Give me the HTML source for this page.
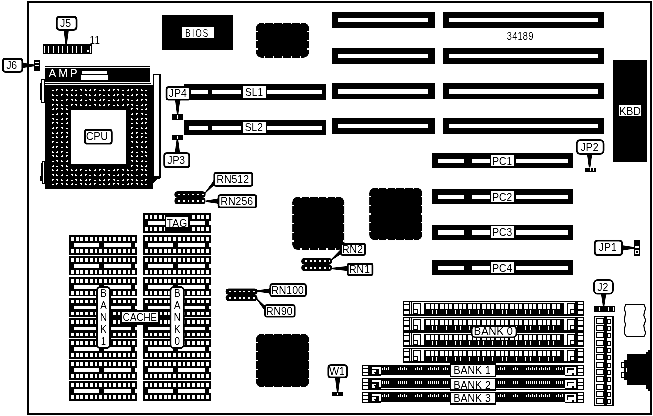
<!DOCTYPE html>
<html><head><meta charset="utf-8"><title>Motherboard layout</title>
<style>
html,body{margin:0;padding:0;background:#fff;}
body{width:653px;height:416px;overflow:hidden;}
svg{display:block;font-family:"Liberation Sans",sans-serif;}
</style></head><body>
<svg width="653" height="416" viewBox="0 0 653 416" shape-rendering="crispEdges">
<defs><filter id="bw" x="0" y="0" width="653" height="416" filterUnits="userSpaceOnUse" color-interpolation-filters="sRGB"><feComponentTransfer><feFuncR type="table" tableValues="0 0 0.6 1 1"/><feFuncG type="table" tableValues="0 0 0.6 1 1"/><feFuncB type="table" tableValues="0 0 0.6 1 1"/></feComponentTransfer></filter></defs>
<g filter="url(#bw)">
<rect x="0" y="0" width="653" height="416" fill="#fff"/>
<rect x="27.00" y="1.00" width="625.00" height="2.00" fill="#000" />
<rect x="27.00" y="413.00" width="625.00" height="2.00" fill="#000" />
<rect x="27.00" y="1.00" width="2.00" height="414.00" fill="#000" />
<rect x="650.00" y="1.00" width="2.00" height="414.00" fill="#000" />
<rect x="43.00" y="44.00" width="49.00" height="10.00" fill="#000" />
<rect x="44.00" y="45.50" width="1.20" height="7.10" fill="#fff" />
<rect x="48.00" y="45.50" width="1.20" height="7.10" fill="#fff" />
<rect x="53.00" y="45.50" width="1.20" height="7.10" fill="#fff" />
<rect x="58.00" y="45.50" width="1.20" height="7.10" fill="#fff" />
<rect x="62.00" y="45.50" width="1.20" height="7.10" fill="#fff" />
<rect x="67.00" y="45.50" width="1.20" height="7.10" fill="#fff" />
<rect x="72.00" y="45.50" width="1.20" height="7.10" fill="#fff" />
<rect x="76.00" y="45.50" width="1.20" height="7.10" fill="#fff" />
<rect x="81.00" y="45.50" width="1.20" height="7.10" fill="#fff" />
<rect x="87.00" y="50.00" width="1.60" height="1.70" fill="#fff" />
<rect x="90.00" y="45.50" width="1.10" height="7.10" fill="#fff" />
<text transform="translate(89.60,43.80) scale(1,1)" font-size="10" text-anchor="start" fill="#000" >11</text>
<polygon points="63.60,30.10 68.80,30.10 67.00,44.00 65.40,44.00" fill="#000" shape-rendering="geometricPrecision"/>
<rect x="56.75" y="16.75" width="19.80" height="13.10" rx="3" ry="3" fill="#fff" stroke="#000" stroke-width="1.8" shape-rendering="geometricPrecision"/>
<text transform="translate(65.45,26.96) scale(0.95,1)" font-size="11" text-anchor="middle" fill="#000" >J5</text>
<rect x="34.00" y="60.00" width="6.00" height="10.50" fill="#000" />
<rect x="35.20" y="61.60" width="3.80" height="1.20" fill="#fff" />
<rect x="35.20" y="65.00" width="3.80" height="1.20" fill="#fff" />
<polygon points="22.60,62.80 22.60,68.00 34.50,66.20 34.50,64.60" fill="#000" shape-rendering="geometricPrecision"/>
<rect x="2.95" y="58.75" width="19.40" height="13.00" rx="2.5" ry="2.5" fill="#fff" stroke="#000" stroke-width="1.8" shape-rendering="geometricPrecision"/>
<text transform="translate(11.65,68.91) scale(0.95,1)" font-size="11" text-anchor="middle" fill="#000" >J6</text>
<rect x="45.00" y="66.00" width="104.50" height="1.00" fill="#000" />
<rect x="45.00" y="68.00" width="104.50" height="14.00" fill="#000" />
<rect x="45.00" y="83.00" width="106.00" height="1.00" fill="#000" />
<rect x="45.00" y="85.00" width="108.00" height="104.00" fill="#000" />
<text transform="translate(48.80,77.40) scale(1,1)" font-size="11" text-anchor="start" fill="#fff" letter-spacing="2.3" >AMP</text>
<rect x="82.00" y="71.00" width="25.00" height="2.60" fill="#fff" />
<rect x="81.00" y="75.30" width="27.20" height="4.40" fill="#fff" />
<rect x="52.00" y="90.00" width="2.00" height="1.00" fill="#fff" />
<rect x="56.00" y="89.00" width="2.00" height="2.00" fill="#fff" />
<rect x="57.00" y="90.00" width="1.00" height="1.00" fill="#000" />
<rect x="61.00" y="89.00" width="2.00" height="2.00" fill="#fff" />
<rect x="61.00" y="90.00" width="1.00" height="1.00" fill="#000" />
<rect x="66.00" y="89.00" width="2.00" height="2.00" fill="#fff" />
<rect x="67.00" y="89.00" width="1.00" height="1.00" fill="#000" />
<rect x="71.00" y="89.00" width="2.00" height="2.00" fill="#fff" />
<rect x="71.00" y="89.00" width="1.00" height="1.00" fill="#000" />
<rect x="75.00" y="90.00" width="2.00" height="1.00" fill="#fff" />
<rect x="80.00" y="89.00" width="2.00" height="2.00" fill="#fff" />
<rect x="80.00" y="90.00" width="1.00" height="1.00" fill="#000" />
<rect x="85.00" y="89.00" width="2.00" height="2.00" fill="#fff" />
<rect x="86.00" y="89.00" width="1.00" height="1.00" fill="#000" />
<rect x="89.00" y="89.00" width="2.00" height="2.00" fill="#fff" />
<rect x="89.00" y="89.00" width="1.00" height="1.00" fill="#000" />
<rect x="94.00" y="89.00" width="2.00" height="2.00" fill="#fff" />
<rect x="95.00" y="90.00" width="1.00" height="1.00" fill="#000" />
<rect x="99.00" y="90.00" width="2.00" height="1.00" fill="#fff" />
<rect x="103.00" y="89.00" width="2.00" height="2.00" fill="#fff" />
<rect x="104.00" y="89.00" width="1.00" height="1.00" fill="#000" />
<rect x="108.00" y="89.00" width="2.00" height="2.00" fill="#fff" />
<rect x="108.00" y="89.00" width="1.00" height="1.00" fill="#000" />
<rect x="113.00" y="89.00" width="2.00" height="2.00" fill="#fff" />
<rect x="114.00" y="90.00" width="1.00" height="1.00" fill="#000" />
<rect x="117.00" y="89.00" width="2.00" height="2.00" fill="#fff" />
<rect x="117.00" y="90.00" width="1.00" height="1.00" fill="#000" />
<rect x="122.00" y="90.00" width="2.00" height="1.00" fill="#fff" />
<rect x="127.00" y="89.00" width="2.00" height="2.00" fill="#fff" />
<rect x="127.00" y="89.00" width="1.00" height="1.00" fill="#000" />
<rect x="131.00" y="89.00" width="2.00" height="2.00" fill="#fff" />
<rect x="132.00" y="90.00" width="1.00" height="1.00" fill="#000" />
<rect x="136.00" y="89.00" width="2.00" height="2.00" fill="#fff" />
<rect x="136.00" y="90.00" width="1.00" height="1.00" fill="#000" />
<rect x="141.00" y="89.00" width="2.00" height="2.00" fill="#fff" />
<rect x="142.00" y="89.00" width="1.00" height="1.00" fill="#000" />
<rect x="145.00" y="90.00" width="2.00" height="1.00" fill="#fff" />
<rect x="52.00" y="94.00" width="2.00" height="2.00" fill="#fff" />
<rect x="53.00" y="94.00" width="1.00" height="1.00" fill="#000" />
<rect x="56.00" y="95.00" width="2.00" height="1.00" fill="#fff" />
<rect x="61.00" y="94.00" width="2.00" height="2.00" fill="#fff" />
<rect x="62.00" y="95.00" width="1.00" height="1.00" fill="#000" />
<rect x="66.00" y="94.00" width="2.00" height="2.00" fill="#fff" />
<rect x="66.00" y="95.00" width="1.00" height="1.00" fill="#000" />
<rect x="71.00" y="94.00" width="2.00" height="2.00" fill="#fff" />
<rect x="72.00" y="94.00" width="1.00" height="1.00" fill="#000" />
<rect x="75.00" y="94.00" width="2.00" height="2.00" fill="#fff" />
<rect x="75.00" y="94.00" width="1.00" height="1.00" fill="#000" />
<rect x="80.00" y="95.00" width="2.00" height="1.00" fill="#fff" />
<rect x="85.00" y="94.00" width="2.00" height="2.00" fill="#fff" />
<rect x="85.00" y="95.00" width="1.00" height="1.00" fill="#000" />
<rect x="89.00" y="94.00" width="2.00" height="2.00" fill="#fff" />
<rect x="90.00" y="94.00" width="1.00" height="1.00" fill="#000" />
<rect x="94.00" y="94.00" width="2.00" height="2.00" fill="#fff" />
<rect x="94.00" y="94.00" width="1.00" height="1.00" fill="#000" />
<rect x="99.00" y="94.00" width="2.00" height="2.00" fill="#fff" />
<rect x="100.00" y="95.00" width="1.00" height="1.00" fill="#000" />
<rect x="103.00" y="95.00" width="2.00" height="1.00" fill="#fff" />
<rect x="108.00" y="94.00" width="2.00" height="2.00" fill="#fff" />
<rect x="109.00" y="94.00" width="1.00" height="1.00" fill="#000" />
<rect x="113.00" y="94.00" width="2.00" height="2.00" fill="#fff" />
<rect x="113.00" y="94.00" width="1.00" height="1.00" fill="#000" />
<rect x="117.00" y="94.00" width="2.00" height="2.00" fill="#fff" />
<rect x="118.00" y="95.00" width="1.00" height="1.00" fill="#000" />
<rect x="122.00" y="94.00" width="2.00" height="2.00" fill="#fff" />
<rect x="122.00" y="95.00" width="1.00" height="1.00" fill="#000" />
<rect x="127.00" y="95.00" width="2.00" height="1.00" fill="#fff" />
<rect x="131.00" y="94.00" width="2.00" height="2.00" fill="#fff" />
<rect x="131.00" y="94.00" width="1.00" height="1.00" fill="#000" />
<rect x="136.00" y="94.00" width="2.00" height="2.00" fill="#fff" />
<rect x="137.00" y="95.00" width="1.00" height="1.00" fill="#000" />
<rect x="141.00" y="94.00" width="2.00" height="2.00" fill="#fff" />
<rect x="141.00" y="95.00" width="1.00" height="1.00" fill="#000" />
<rect x="145.00" y="94.00" width="2.00" height="2.00" fill="#fff" />
<rect x="146.00" y="94.00" width="1.00" height="1.00" fill="#000" />
<rect x="52.00" y="99.00" width="2.00" height="2.00" fill="#fff" />
<rect x="52.00" y="100.00" width="1.00" height="1.00" fill="#000" />
<rect x="56.00" y="99.00" width="2.00" height="2.00" fill="#fff" />
<rect x="57.00" y="99.00" width="1.00" height="1.00" fill="#000" />
<rect x="61.00" y="100.00" width="2.00" height="1.00" fill="#fff" />
<rect x="66.00" y="99.00" width="2.00" height="2.00" fill="#fff" />
<rect x="67.00" y="100.00" width="1.00" height="1.00" fill="#000" />
<rect x="71.00" y="99.00" width="2.00" height="2.00" fill="#fff" />
<rect x="71.00" y="100.00" width="1.00" height="1.00" fill="#000" />
<rect x="75.00" y="99.00" width="2.00" height="2.00" fill="#fff" />
<rect x="76.00" y="99.00" width="1.00" height="1.00" fill="#000" />
<rect x="80.00" y="99.00" width="2.00" height="2.00" fill="#fff" />
<rect x="80.00" y="99.00" width="1.00" height="1.00" fill="#000" />
<rect x="85.00" y="100.00" width="2.00" height="1.00" fill="#fff" />
<rect x="89.00" y="99.00" width="2.00" height="2.00" fill="#fff" />
<rect x="89.00" y="100.00" width="1.00" height="1.00" fill="#000" />
<rect x="94.00" y="99.00" width="2.00" height="2.00" fill="#fff" />
<rect x="95.00" y="99.00" width="1.00" height="1.00" fill="#000" />
<rect x="99.00" y="99.00" width="2.00" height="2.00" fill="#fff" />
<rect x="99.00" y="99.00" width="1.00" height="1.00" fill="#000" />
<rect x="103.00" y="99.00" width="2.00" height="2.00" fill="#fff" />
<rect x="104.00" y="100.00" width="1.00" height="1.00" fill="#000" />
<rect x="108.00" y="100.00" width="2.00" height="1.00" fill="#fff" />
<rect x="113.00" y="99.00" width="2.00" height="2.00" fill="#fff" />
<rect x="114.00" y="99.00" width="1.00" height="1.00" fill="#000" />
<rect x="117.00" y="99.00" width="2.00" height="2.00" fill="#fff" />
<rect x="117.00" y="99.00" width="1.00" height="1.00" fill="#000" />
<rect x="122.00" y="99.00" width="2.00" height="2.00" fill="#fff" />
<rect x="123.00" y="100.00" width="1.00" height="1.00" fill="#000" />
<rect x="127.00" y="99.00" width="2.00" height="2.00" fill="#fff" />
<rect x="127.00" y="100.00" width="1.00" height="1.00" fill="#000" />
<rect x="131.00" y="100.00" width="2.00" height="1.00" fill="#fff" />
<rect x="136.00" y="99.00" width="2.00" height="2.00" fill="#fff" />
<rect x="136.00" y="99.00" width="1.00" height="1.00" fill="#000" />
<rect x="141.00" y="99.00" width="2.00" height="2.00" fill="#fff" />
<rect x="142.00" y="100.00" width="1.00" height="1.00" fill="#000" />
<rect x="145.00" y="99.00" width="2.00" height="2.00" fill="#fff" />
<rect x="145.00" y="100.00" width="1.00" height="1.00" fill="#000" />
<rect x="52.00" y="104.00" width="2.00" height="2.00" fill="#fff" />
<rect x="53.00" y="105.00" width="1.00" height="1.00" fill="#000" />
<rect x="56.00" y="104.00" width="2.00" height="2.00" fill="#fff" />
<rect x="56.00" y="105.00" width="1.00" height="1.00" fill="#000" />
<rect x="61.00" y="104.00" width="2.00" height="2.00" fill="#fff" />
<rect x="62.00" y="104.00" width="1.00" height="1.00" fill="#000" />
<rect x="66.00" y="105.00" width="2.00" height="1.00" fill="#fff" />
<rect x="71.00" y="104.00" width="2.00" height="2.00" fill="#fff" />
<rect x="72.00" y="105.00" width="1.00" height="1.00" fill="#000" />
<rect x="75.00" y="104.00" width="2.00" height="2.00" fill="#fff" />
<rect x="75.00" y="105.00" width="1.00" height="1.00" fill="#000" />
<rect x="80.00" y="104.00" width="2.00" height="2.00" fill="#fff" />
<rect x="81.00" y="104.00" width="1.00" height="1.00" fill="#000" />
<rect x="85.00" y="104.00" width="2.00" height="2.00" fill="#fff" />
<rect x="85.00" y="104.00" width="1.00" height="1.00" fill="#000" />
<rect x="89.00" y="105.00" width="2.00" height="1.00" fill="#fff" />
<rect x="94.00" y="104.00" width="2.00" height="2.00" fill="#fff" />
<rect x="94.00" y="105.00" width="1.00" height="1.00" fill="#000" />
<rect x="99.00" y="104.00" width="2.00" height="2.00" fill="#fff" />
<rect x="100.00" y="104.00" width="1.00" height="1.00" fill="#000" />
<rect x="103.00" y="104.00" width="2.00" height="2.00" fill="#fff" />
<rect x="103.00" y="104.00" width="1.00" height="1.00" fill="#000" />
<rect x="108.00" y="104.00" width="2.00" height="2.00" fill="#fff" />
<rect x="109.00" y="105.00" width="1.00" height="1.00" fill="#000" />
<rect x="113.00" y="105.00" width="2.00" height="1.00" fill="#fff" />
<rect x="117.00" y="104.00" width="2.00" height="2.00" fill="#fff" />
<rect x="118.00" y="104.00" width="1.00" height="1.00" fill="#000" />
<rect x="122.00" y="104.00" width="2.00" height="2.00" fill="#fff" />
<rect x="122.00" y="104.00" width="1.00" height="1.00" fill="#000" />
<rect x="127.00" y="104.00" width="2.00" height="2.00" fill="#fff" />
<rect x="128.00" y="105.00" width="1.00" height="1.00" fill="#000" />
<rect x="131.00" y="104.00" width="2.00" height="2.00" fill="#fff" />
<rect x="131.00" y="105.00" width="1.00" height="1.00" fill="#000" />
<rect x="136.00" y="105.00" width="2.00" height="1.00" fill="#fff" />
<rect x="141.00" y="104.00" width="2.00" height="2.00" fill="#fff" />
<rect x="141.00" y="104.00" width="1.00" height="1.00" fill="#000" />
<rect x="145.00" y="104.00" width="2.00" height="2.00" fill="#fff" />
<rect x="146.00" y="105.00" width="1.00" height="1.00" fill="#000" />
<rect x="52.00" y="108.00" width="2.00" height="2.00" fill="#fff" />
<rect x="52.00" y="108.00" width="1.00" height="1.00" fill="#000" />
<rect x="56.00" y="108.00" width="2.00" height="2.00" fill="#fff" />
<rect x="57.00" y="109.00" width="1.00" height="1.00" fill="#000" />
<rect x="61.00" y="108.00" width="2.00" height="2.00" fill="#fff" />
<rect x="61.00" y="109.00" width="1.00" height="1.00" fill="#000" />
<rect x="66.00" y="108.00" width="2.00" height="2.00" fill="#fff" />
<rect x="67.00" y="108.00" width="1.00" height="1.00" fill="#000" />
<rect x="131.00" y="108.00" width="2.00" height="2.00" fill="#fff" />
<rect x="132.00" y="109.00" width="1.00" height="1.00" fill="#000" />
<rect x="136.00" y="108.00" width="2.00" height="2.00" fill="#fff" />
<rect x="136.00" y="109.00" width="1.00" height="1.00" fill="#000" />
<rect x="141.00" y="109.00" width="2.00" height="1.00" fill="#fff" />
<rect x="145.00" y="108.00" width="2.00" height="2.00" fill="#fff" />
<rect x="145.00" y="108.00" width="1.00" height="1.00" fill="#000" />
<rect x="52.00" y="114.00" width="2.00" height="1.00" fill="#fff" />
<rect x="56.00" y="113.00" width="2.00" height="2.00" fill="#fff" />
<rect x="56.00" y="113.00" width="1.00" height="1.00" fill="#000" />
<rect x="61.00" y="113.00" width="2.00" height="2.00" fill="#fff" />
<rect x="62.00" y="114.00" width="1.00" height="1.00" fill="#000" />
<rect x="66.00" y="113.00" width="2.00" height="2.00" fill="#fff" />
<rect x="66.00" y="114.00" width="1.00" height="1.00" fill="#000" />
<rect x="131.00" y="113.00" width="2.00" height="2.00" fill="#fff" />
<rect x="131.00" y="113.00" width="1.00" height="1.00" fill="#000" />
<rect x="136.00" y="113.00" width="2.00" height="2.00" fill="#fff" />
<rect x="137.00" y="114.00" width="1.00" height="1.00" fill="#000" />
<rect x="141.00" y="113.00" width="2.00" height="2.00" fill="#fff" />
<rect x="141.00" y="114.00" width="1.00" height="1.00" fill="#000" />
<rect x="145.00" y="114.00" width="2.00" height="1.00" fill="#fff" />
<rect x="52.00" y="118.00" width="2.00" height="2.00" fill="#fff" />
<rect x="52.00" y="119.00" width="1.00" height="1.00" fill="#000" />
<rect x="56.00" y="119.00" width="2.00" height="1.00" fill="#fff" />
<rect x="61.00" y="118.00" width="2.00" height="2.00" fill="#fff" />
<rect x="61.00" y="118.00" width="1.00" height="1.00" fill="#000" />
<rect x="66.00" y="118.00" width="2.00" height="2.00" fill="#fff" />
<rect x="67.00" y="119.00" width="1.00" height="1.00" fill="#000" />
<rect x="131.00" y="118.00" width="2.00" height="2.00" fill="#fff" />
<rect x="132.00" y="118.00" width="1.00" height="1.00" fill="#000" />
<rect x="136.00" y="118.00" width="2.00" height="2.00" fill="#fff" />
<rect x="136.00" y="118.00" width="1.00" height="1.00" fill="#000" />
<rect x="141.00" y="118.00" width="2.00" height="2.00" fill="#fff" />
<rect x="142.00" y="119.00" width="1.00" height="1.00" fill="#000" />
<rect x="145.00" y="118.00" width="2.00" height="2.00" fill="#fff" />
<rect x="145.00" y="119.00" width="1.00" height="1.00" fill="#000" />
<rect x="52.00" y="122.00" width="2.00" height="2.00" fill="#fff" />
<rect x="53.00" y="123.00" width="1.00" height="1.00" fill="#000" />
<rect x="56.00" y="122.00" width="2.00" height="2.00" fill="#fff" />
<rect x="56.00" y="123.00" width="1.00" height="1.00" fill="#000" />
<rect x="61.00" y="123.00" width="2.00" height="1.00" fill="#fff" />
<rect x="66.00" y="122.00" width="2.00" height="2.00" fill="#fff" />
<rect x="66.00" y="122.00" width="1.00" height="1.00" fill="#000" />
<rect x="131.00" y="123.00" width="2.00" height="1.00" fill="#fff" />
<rect x="136.00" y="122.00" width="2.00" height="2.00" fill="#fff" />
<rect x="137.00" y="122.00" width="1.00" height="1.00" fill="#000" />
<rect x="141.00" y="122.00" width="2.00" height="2.00" fill="#fff" />
<rect x="141.00" y="122.00" width="1.00" height="1.00" fill="#000" />
<rect x="145.00" y="122.00" width="2.00" height="2.00" fill="#fff" />
<rect x="146.00" y="123.00" width="1.00" height="1.00" fill="#000" />
<rect x="52.00" y="127.00" width="2.00" height="2.00" fill="#fff" />
<rect x="52.00" y="127.00" width="1.00" height="1.00" fill="#000" />
<rect x="56.00" y="127.00" width="2.00" height="2.00" fill="#fff" />
<rect x="57.00" y="128.00" width="1.00" height="1.00" fill="#000" />
<rect x="61.00" y="127.00" width="2.00" height="2.00" fill="#fff" />
<rect x="61.00" y="128.00" width="1.00" height="1.00" fill="#000" />
<rect x="66.00" y="128.00" width="2.00" height="1.00" fill="#fff" />
<rect x="131.00" y="127.00" width="2.00" height="2.00" fill="#fff" />
<rect x="132.00" y="128.00" width="1.00" height="1.00" fill="#000" />
<rect x="136.00" y="128.00" width="2.00" height="1.00" fill="#fff" />
<rect x="141.00" y="127.00" width="2.00" height="2.00" fill="#fff" />
<rect x="142.00" y="127.00" width="1.00" height="1.00" fill="#000" />
<rect x="145.00" y="127.00" width="2.00" height="2.00" fill="#fff" />
<rect x="145.00" y="127.00" width="1.00" height="1.00" fill="#000" />
<rect x="52.00" y="132.00" width="2.00" height="2.00" fill="#fff" />
<rect x="53.00" y="132.00" width="1.00" height="1.00" fill="#000" />
<rect x="56.00" y="132.00" width="2.00" height="2.00" fill="#fff" />
<rect x="56.00" y="132.00" width="1.00" height="1.00" fill="#000" />
<rect x="61.00" y="132.00" width="2.00" height="2.00" fill="#fff" />
<rect x="62.00" y="133.00" width="1.00" height="1.00" fill="#000" />
<rect x="66.00" y="132.00" width="2.00" height="2.00" fill="#fff" />
<rect x="66.00" y="133.00" width="1.00" height="1.00" fill="#000" />
<rect x="131.00" y="132.00" width="2.00" height="2.00" fill="#fff" />
<rect x="131.00" y="132.00" width="1.00" height="1.00" fill="#000" />
<rect x="136.00" y="132.00" width="2.00" height="2.00" fill="#fff" />
<rect x="137.00" y="133.00" width="1.00" height="1.00" fill="#000" />
<rect x="141.00" y="133.00" width="2.00" height="1.00" fill="#fff" />
<rect x="145.00" y="132.00" width="2.00" height="2.00" fill="#fff" />
<rect x="146.00" y="132.00" width="1.00" height="1.00" fill="#000" />
<rect x="52.00" y="137.00" width="2.00" height="1.00" fill="#fff" />
<rect x="56.00" y="136.00" width="2.00" height="2.00" fill="#fff" />
<rect x="57.00" y="136.00" width="1.00" height="1.00" fill="#000" />
<rect x="61.00" y="136.00" width="2.00" height="2.00" fill="#fff" />
<rect x="61.00" y="136.00" width="1.00" height="1.00" fill="#000" />
<rect x="66.00" y="136.00" width="2.00" height="2.00" fill="#fff" />
<rect x="67.00" y="137.00" width="1.00" height="1.00" fill="#000" />
<rect x="131.00" y="136.00" width="2.00" height="2.00" fill="#fff" />
<rect x="132.00" y="136.00" width="1.00" height="1.00" fill="#000" />
<rect x="136.00" y="136.00" width="2.00" height="2.00" fill="#fff" />
<rect x="136.00" y="136.00" width="1.00" height="1.00" fill="#000" />
<rect x="141.00" y="136.00" width="2.00" height="2.00" fill="#fff" />
<rect x="142.00" y="137.00" width="1.00" height="1.00" fill="#000" />
<rect x="145.00" y="137.00" width="2.00" height="1.00" fill="#fff" />
<rect x="52.00" y="141.00" width="2.00" height="2.00" fill="#fff" />
<rect x="53.00" y="142.00" width="1.00" height="1.00" fill="#000" />
<rect x="56.00" y="142.00" width="2.00" height="1.00" fill="#fff" />
<rect x="61.00" y="141.00" width="2.00" height="2.00" fill="#fff" />
<rect x="62.00" y="141.00" width="1.00" height="1.00" fill="#000" />
<rect x="66.00" y="141.00" width="2.00" height="2.00" fill="#fff" />
<rect x="66.00" y="141.00" width="1.00" height="1.00" fill="#000" />
<rect x="131.00" y="141.00" width="2.00" height="2.00" fill="#fff" />
<rect x="131.00" y="142.00" width="1.00" height="1.00" fill="#000" />
<rect x="136.00" y="141.00" width="2.00" height="2.00" fill="#fff" />
<rect x="137.00" y="141.00" width="1.00" height="1.00" fill="#000" />
<rect x="141.00" y="141.00" width="2.00" height="2.00" fill="#fff" />
<rect x="141.00" y="141.00" width="1.00" height="1.00" fill="#000" />
<rect x="145.00" y="141.00" width="2.00" height="2.00" fill="#fff" />
<rect x="146.00" y="142.00" width="1.00" height="1.00" fill="#000" />
<rect x="52.00" y="146.00" width="2.00" height="2.00" fill="#fff" />
<rect x="52.00" y="146.00" width="1.00" height="1.00" fill="#000" />
<rect x="56.00" y="146.00" width="2.00" height="2.00" fill="#fff" />
<rect x="57.00" y="147.00" width="1.00" height="1.00" fill="#000" />
<rect x="61.00" y="147.00" width="2.00" height="1.00" fill="#fff" />
<rect x="66.00" y="146.00" width="2.00" height="2.00" fill="#fff" />
<rect x="67.00" y="146.00" width="1.00" height="1.00" fill="#000" />
<rect x="131.00" y="147.00" width="2.00" height="1.00" fill="#fff" />
<rect x="136.00" y="146.00" width="2.00" height="2.00" fill="#fff" />
<rect x="136.00" y="147.00" width="1.00" height="1.00" fill="#000" />
<rect x="141.00" y="146.00" width="2.00" height="2.00" fill="#fff" />
<rect x="142.00" y="146.00" width="1.00" height="1.00" fill="#000" />
<rect x="145.00" y="146.00" width="2.00" height="2.00" fill="#fff" />
<rect x="145.00" y="146.00" width="1.00" height="1.00" fill="#000" />
<rect x="52.00" y="151.00" width="2.00" height="2.00" fill="#fff" />
<rect x="53.00" y="151.00" width="1.00" height="1.00" fill="#000" />
<rect x="56.00" y="151.00" width="2.00" height="2.00" fill="#fff" />
<rect x="56.00" y="151.00" width="1.00" height="1.00" fill="#000" />
<rect x="61.00" y="151.00" width="2.00" height="2.00" fill="#fff" />
<rect x="62.00" y="152.00" width="1.00" height="1.00" fill="#000" />
<rect x="66.00" y="152.00" width="2.00" height="1.00" fill="#fff" />
<rect x="131.00" y="151.00" width="2.00" height="2.00" fill="#fff" />
<rect x="131.00" y="151.00" width="1.00" height="1.00" fill="#000" />
<rect x="136.00" y="152.00" width="2.00" height="1.00" fill="#fff" />
<rect x="141.00" y="151.00" width="2.00" height="2.00" fill="#fff" />
<rect x="141.00" y="152.00" width="1.00" height="1.00" fill="#000" />
<rect x="145.00" y="151.00" width="2.00" height="2.00" fill="#fff" />
<rect x="146.00" y="151.00" width="1.00" height="1.00" fill="#000" />
<rect x="52.00" y="155.00" width="2.00" height="2.00" fill="#fff" />
<rect x="52.00" y="156.00" width="1.00" height="1.00" fill="#000" />
<rect x="56.00" y="155.00" width="2.00" height="2.00" fill="#fff" />
<rect x="57.00" y="155.00" width="1.00" height="1.00" fill="#000" />
<rect x="61.00" y="155.00" width="2.00" height="2.00" fill="#fff" />
<rect x="61.00" y="155.00" width="1.00" height="1.00" fill="#000" />
<rect x="66.00" y="155.00" width="2.00" height="2.00" fill="#fff" />
<rect x="67.00" y="156.00" width="1.00" height="1.00" fill="#000" />
<rect x="131.00" y="155.00" width="2.00" height="2.00" fill="#fff" />
<rect x="132.00" y="155.00" width="1.00" height="1.00" fill="#000" />
<rect x="136.00" y="155.00" width="2.00" height="2.00" fill="#fff" />
<rect x="136.00" y="155.00" width="1.00" height="1.00" fill="#000" />
<rect x="141.00" y="156.00" width="2.00" height="1.00" fill="#fff" />
<rect x="145.00" y="155.00" width="2.00" height="2.00" fill="#fff" />
<rect x="145.00" y="156.00" width="1.00" height="1.00" fill="#000" />
<rect x="52.00" y="161.00" width="2.00" height="1.00" fill="#fff" />
<rect x="56.00" y="160.00" width="2.00" height="2.00" fill="#fff" />
<rect x="56.00" y="161.00" width="1.00" height="1.00" fill="#000" />
<rect x="61.00" y="160.00" width="2.00" height="2.00" fill="#fff" />
<rect x="62.00" y="160.00" width="1.00" height="1.00" fill="#000" />
<rect x="66.00" y="160.00" width="2.00" height="2.00" fill="#fff" />
<rect x="66.00" y="160.00" width="1.00" height="1.00" fill="#000" />
<rect x="131.00" y="160.00" width="2.00" height="2.00" fill="#fff" />
<rect x="131.00" y="161.00" width="1.00" height="1.00" fill="#000" />
<rect x="136.00" y="160.00" width="2.00" height="2.00" fill="#fff" />
<rect x="137.00" y="160.00" width="1.00" height="1.00" fill="#000" />
<rect x="141.00" y="160.00" width="2.00" height="2.00" fill="#fff" />
<rect x="141.00" y="160.00" width="1.00" height="1.00" fill="#000" />
<rect x="145.00" y="161.00" width="2.00" height="1.00" fill="#fff" />
<rect x="52.00" y="165.00" width="2.00" height="2.00" fill="#fff" />
<rect x="52.00" y="165.00" width="1.00" height="1.00" fill="#000" />
<rect x="56.00" y="166.00" width="2.00" height="1.00" fill="#fff" />
<rect x="61.00" y="165.00" width="2.00" height="2.00" fill="#fff" />
<rect x="61.00" y="166.00" width="1.00" height="1.00" fill="#000" />
<rect x="66.00" y="165.00" width="2.00" height="2.00" fill="#fff" />
<rect x="67.00" y="165.00" width="1.00" height="1.00" fill="#000" />
<rect x="131.00" y="165.00" width="2.00" height="2.00" fill="#fff" />
<rect x="132.00" y="166.00" width="1.00" height="1.00" fill="#000" />
<rect x="136.00" y="165.00" width="2.00" height="2.00" fill="#fff" />
<rect x="136.00" y="166.00" width="1.00" height="1.00" fill="#000" />
<rect x="141.00" y="165.00" width="2.00" height="2.00" fill="#fff" />
<rect x="142.00" y="165.00" width="1.00" height="1.00" fill="#000" />
<rect x="145.00" y="165.00" width="2.00" height="2.00" fill="#fff" />
<rect x="145.00" y="165.00" width="1.00" height="1.00" fill="#000" />
<rect x="52.00" y="169.00" width="2.00" height="2.00" fill="#fff" />
<rect x="53.00" y="169.00" width="1.00" height="1.00" fill="#000" />
<rect x="56.00" y="169.00" width="2.00" height="2.00" fill="#fff" />
<rect x="56.00" y="169.00" width="1.00" height="1.00" fill="#000" />
<rect x="61.00" y="170.00" width="2.00" height="1.00" fill="#fff" />
<rect x="66.00" y="169.00" width="2.00" height="2.00" fill="#fff" />
<rect x="66.00" y="170.00" width="1.00" height="1.00" fill="#000" />
<rect x="71.00" y="169.00" width="2.00" height="2.00" fill="#fff" />
<rect x="72.00" y="169.00" width="1.00" height="1.00" fill="#000" />
<rect x="75.00" y="169.00" width="2.00" height="2.00" fill="#fff" />
<rect x="75.00" y="169.00" width="1.00" height="1.00" fill="#000" />
<rect x="80.00" y="169.00" width="2.00" height="2.00" fill="#fff" />
<rect x="81.00" y="170.00" width="1.00" height="1.00" fill="#000" />
<rect x="85.00" y="170.00" width="2.00" height="1.00" fill="#fff" />
<rect x="89.00" y="169.00" width="2.00" height="2.00" fill="#fff" />
<rect x="90.00" y="169.00" width="1.00" height="1.00" fill="#000" />
<rect x="94.00" y="169.00" width="2.00" height="2.00" fill="#fff" />
<rect x="94.00" y="169.00" width="1.00" height="1.00" fill="#000" />
<rect x="99.00" y="169.00" width="2.00" height="2.00" fill="#fff" />
<rect x="100.00" y="170.00" width="1.00" height="1.00" fill="#000" />
<rect x="103.00" y="169.00" width="2.00" height="2.00" fill="#fff" />
<rect x="103.00" y="170.00" width="1.00" height="1.00" fill="#000" />
<rect x="108.00" y="170.00" width="2.00" height="1.00" fill="#fff" />
<rect x="113.00" y="169.00" width="2.00" height="2.00" fill="#fff" />
<rect x="113.00" y="169.00" width="1.00" height="1.00" fill="#000" />
<rect x="117.00" y="169.00" width="2.00" height="2.00" fill="#fff" />
<rect x="118.00" y="170.00" width="1.00" height="1.00" fill="#000" />
<rect x="122.00" y="169.00" width="2.00" height="2.00" fill="#fff" />
<rect x="122.00" y="170.00" width="1.00" height="1.00" fill="#000" />
<rect x="127.00" y="169.00" width="2.00" height="2.00" fill="#fff" />
<rect x="128.00" y="169.00" width="1.00" height="1.00" fill="#000" />
<rect x="131.00" y="170.00" width="2.00" height="1.00" fill="#fff" />
<rect x="136.00" y="169.00" width="2.00" height="2.00" fill="#fff" />
<rect x="137.00" y="170.00" width="1.00" height="1.00" fill="#000" />
<rect x="141.00" y="169.00" width="2.00" height="2.00" fill="#fff" />
<rect x="141.00" y="170.00" width="1.00" height="1.00" fill="#000" />
<rect x="145.00" y="169.00" width="2.00" height="2.00" fill="#fff" />
<rect x="146.00" y="169.00" width="1.00" height="1.00" fill="#000" />
<rect x="52.00" y="174.00" width="2.00" height="2.00" fill="#fff" />
<rect x="52.00" y="175.00" width="1.00" height="1.00" fill="#000" />
<rect x="56.00" y="174.00" width="2.00" height="2.00" fill="#fff" />
<rect x="57.00" y="174.00" width="1.00" height="1.00" fill="#000" />
<rect x="61.00" y="174.00" width="2.00" height="2.00" fill="#fff" />
<rect x="61.00" y="174.00" width="1.00" height="1.00" fill="#000" />
<rect x="66.00" y="175.00" width="2.00" height="1.00" fill="#fff" />
<rect x="71.00" y="174.00" width="2.00" height="2.00" fill="#fff" />
<rect x="71.00" y="175.00" width="1.00" height="1.00" fill="#000" />
<rect x="75.00" y="174.00" width="2.00" height="2.00" fill="#fff" />
<rect x="76.00" y="174.00" width="1.00" height="1.00" fill="#000" />
<rect x="80.00" y="174.00" width="2.00" height="2.00" fill="#fff" />
<rect x="80.00" y="174.00" width="1.00" height="1.00" fill="#000" />
<rect x="85.00" y="174.00" width="2.00" height="2.00" fill="#fff" />
<rect x="86.00" y="175.00" width="1.00" height="1.00" fill="#000" />
<rect x="89.00" y="175.00" width="2.00" height="1.00" fill="#fff" />
<rect x="94.00" y="174.00" width="2.00" height="2.00" fill="#fff" />
<rect x="95.00" y="174.00" width="1.00" height="1.00" fill="#000" />
<rect x="99.00" y="174.00" width="2.00" height="2.00" fill="#fff" />
<rect x="99.00" y="174.00" width="1.00" height="1.00" fill="#000" />
<rect x="103.00" y="174.00" width="2.00" height="2.00" fill="#fff" />
<rect x="104.00" y="175.00" width="1.00" height="1.00" fill="#000" />
<rect x="108.00" y="174.00" width="2.00" height="2.00" fill="#fff" />
<rect x="108.00" y="175.00" width="1.00" height="1.00" fill="#000" />
<rect x="113.00" y="175.00" width="2.00" height="1.00" fill="#fff" />
<rect x="117.00" y="174.00" width="2.00" height="2.00" fill="#fff" />
<rect x="117.00" y="174.00" width="1.00" height="1.00" fill="#000" />
<rect x="122.00" y="174.00" width="2.00" height="2.00" fill="#fff" />
<rect x="123.00" y="175.00" width="1.00" height="1.00" fill="#000" />
<rect x="127.00" y="174.00" width="2.00" height="2.00" fill="#fff" />
<rect x="127.00" y="175.00" width="1.00" height="1.00" fill="#000" />
<rect x="131.00" y="174.00" width="2.00" height="2.00" fill="#fff" />
<rect x="132.00" y="174.00" width="1.00" height="1.00" fill="#000" />
<rect x="136.00" y="175.00" width="2.00" height="1.00" fill="#fff" />
<rect x="141.00" y="174.00" width="2.00" height="2.00" fill="#fff" />
<rect x="142.00" y="175.00" width="1.00" height="1.00" fill="#000" />
<rect x="145.00" y="174.00" width="2.00" height="2.00" fill="#fff" />
<rect x="145.00" y="175.00" width="1.00" height="1.00" fill="#000" />
<rect x="52.00" y="179.00" width="2.00" height="2.00" fill="#fff" />
<rect x="53.00" y="180.00" width="1.00" height="1.00" fill="#000" />
<rect x="56.00" y="179.00" width="2.00" height="2.00" fill="#fff" />
<rect x="56.00" y="180.00" width="1.00" height="1.00" fill="#000" />
<rect x="61.00" y="179.00" width="2.00" height="2.00" fill="#fff" />
<rect x="62.00" y="179.00" width="1.00" height="1.00" fill="#000" />
<rect x="66.00" y="179.00" width="2.00" height="2.00" fill="#fff" />
<rect x="66.00" y="179.00" width="1.00" height="1.00" fill="#000" />
<rect x="71.00" y="180.00" width="2.00" height="1.00" fill="#fff" />
<rect x="75.00" y="179.00" width="2.00" height="2.00" fill="#fff" />
<rect x="75.00" y="180.00" width="1.00" height="1.00" fill="#000" />
<rect x="80.00" y="179.00" width="2.00" height="2.00" fill="#fff" />
<rect x="81.00" y="179.00" width="1.00" height="1.00" fill="#000" />
<rect x="85.00" y="179.00" width="2.00" height="2.00" fill="#fff" />
<rect x="85.00" y="179.00" width="1.00" height="1.00" fill="#000" />
<rect x="89.00" y="179.00" width="2.00" height="2.00" fill="#fff" />
<rect x="90.00" y="180.00" width="1.00" height="1.00" fill="#000" />
<rect x="94.00" y="180.00" width="2.00" height="1.00" fill="#fff" />
<rect x="99.00" y="179.00" width="2.00" height="2.00" fill="#fff" />
<rect x="100.00" y="179.00" width="1.00" height="1.00" fill="#000" />
<rect x="103.00" y="179.00" width="2.00" height="2.00" fill="#fff" />
<rect x="103.00" y="179.00" width="1.00" height="1.00" fill="#000" />
<rect x="108.00" y="179.00" width="2.00" height="2.00" fill="#fff" />
<rect x="109.00" y="180.00" width="1.00" height="1.00" fill="#000" />
<rect x="113.00" y="179.00" width="2.00" height="2.00" fill="#fff" />
<rect x="113.00" y="180.00" width="1.00" height="1.00" fill="#000" />
<rect x="117.00" y="180.00" width="2.00" height="1.00" fill="#fff" />
<rect x="122.00" y="179.00" width="2.00" height="2.00" fill="#fff" />
<rect x="122.00" y="179.00" width="1.00" height="1.00" fill="#000" />
<rect x="127.00" y="179.00" width="2.00" height="2.00" fill="#fff" />
<rect x="128.00" y="180.00" width="1.00" height="1.00" fill="#000" />
<rect x="131.00" y="179.00" width="2.00" height="2.00" fill="#fff" />
<rect x="131.00" y="180.00" width="1.00" height="1.00" fill="#000" />
<rect x="136.00" y="179.00" width="2.00" height="2.00" fill="#fff" />
<rect x="137.00" y="179.00" width="1.00" height="1.00" fill="#000" />
<rect x="141.00" y="180.00" width="2.00" height="1.00" fill="#fff" />
<rect x="145.00" y="179.00" width="2.00" height="2.00" fill="#fff" />
<rect x="146.00" y="180.00" width="1.00" height="1.00" fill="#000" />
<rect x="52.00" y="184.00" width="2.00" height="1.00" fill="#fff" />
<rect x="56.00" y="183.00" width="2.00" height="2.00" fill="#fff" />
<rect x="57.00" y="184.00" width="1.00" height="1.00" fill="#000" />
<rect x="61.00" y="183.00" width="2.00" height="2.00" fill="#fff" />
<rect x="61.00" y="184.00" width="1.00" height="1.00" fill="#000" />
<rect x="66.00" y="183.00" width="2.00" height="2.00" fill="#fff" />
<rect x="67.00" y="183.00" width="1.00" height="1.00" fill="#000" />
<rect x="71.00" y="183.00" width="2.00" height="2.00" fill="#fff" />
<rect x="71.00" y="183.00" width="1.00" height="1.00" fill="#000" />
<rect x="75.00" y="184.00" width="2.00" height="1.00" fill="#fff" />
<rect x="80.00" y="183.00" width="2.00" height="2.00" fill="#fff" />
<rect x="80.00" y="184.00" width="1.00" height="1.00" fill="#000" />
<rect x="85.00" y="183.00" width="2.00" height="2.00" fill="#fff" />
<rect x="86.00" y="183.00" width="1.00" height="1.00" fill="#000" />
<rect x="89.00" y="183.00" width="2.00" height="2.00" fill="#fff" />
<rect x="89.00" y="183.00" width="1.00" height="1.00" fill="#000" />
<rect x="94.00" y="183.00" width="2.00" height="2.00" fill="#fff" />
<rect x="95.00" y="184.00" width="1.00" height="1.00" fill="#000" />
<rect x="99.00" y="184.00" width="2.00" height="1.00" fill="#fff" />
<rect x="103.00" y="183.00" width="2.00" height="2.00" fill="#fff" />
<rect x="104.00" y="183.00" width="1.00" height="1.00" fill="#000" />
<rect x="108.00" y="183.00" width="2.00" height="2.00" fill="#fff" />
<rect x="108.00" y="183.00" width="1.00" height="1.00" fill="#000" />
<rect x="113.00" y="183.00" width="2.00" height="2.00" fill="#fff" />
<rect x="114.00" y="184.00" width="1.00" height="1.00" fill="#000" />
<rect x="117.00" y="183.00" width="2.00" height="2.00" fill="#fff" />
<rect x="117.00" y="184.00" width="1.00" height="1.00" fill="#000" />
<rect x="122.00" y="184.00" width="2.00" height="1.00" fill="#fff" />
<rect x="127.00" y="183.00" width="2.00" height="2.00" fill="#fff" />
<rect x="127.00" y="183.00" width="1.00" height="1.00" fill="#000" />
<rect x="131.00" y="183.00" width="2.00" height="2.00" fill="#fff" />
<rect x="132.00" y="184.00" width="1.00" height="1.00" fill="#000" />
<rect x="136.00" y="183.00" width="2.00" height="2.00" fill="#fff" />
<rect x="136.00" y="184.00" width="1.00" height="1.00" fill="#000" />
<rect x="141.00" y="183.00" width="2.00" height="2.00" fill="#fff" />
<rect x="142.00" y="183.00" width="1.00" height="1.00" fill="#000" />
<rect x="145.00" y="184.00" width="2.00" height="1.00" fill="#fff" />
<rect x="71.00" y="110.00" width="55.00" height="53.60" fill="#fff" />
<rect x="84.85" y="129.75" width="26.90" height="13.90" rx="2.5" ry="2.5" fill="#fff" stroke="#000" stroke-width="1.8" shape-rendering="geometricPrecision"/>
<text transform="translate(97.10,140.36) scale(0.95,1)" font-size="11" text-anchor="middle" fill="#000" >CPU</text>
<rect x="153.00" y="73.50" width="8.00" height="104.50" fill="#000" />
<rect x="154.20" y="75.00" width="5.00" height="101.30" fill="#fff" />
<polygon points="153.00,178.00 161.00,178.00 157.50,179.50 153.00,183.00" fill="#000" />
<rect x="40.90" y="79.00" width="4.10" height="24.00" fill="#000" />
<rect x="42.20" y="80.20" width="1.80" height="21.70" fill="#fff" />
<rect x="39.90" y="82.60" width="1.00" height="17.40" fill="#000" />
<rect x="41.90" y="160.90" width="3.10" height="22.90" fill="#000" />
<rect x="43.00" y="162.20" width="1.10" height="20.60" fill="#fff" />
<rect x="40.00" y="175.90" width="2.00" height="5.00" fill="#000" />
<rect x="40.90" y="162.80" width="1.00" height="13.20" fill="#000" />
<rect x="162.00" y="15.00" width="71.00" height="35.00" fill="#000" />
<rect x="182.00" y="27.00" width="32.00" height="11.00" fill="#fff" />
<text transform="translate(197.40,36.70) scale(0.78,1)" font-size="10.3" text-anchor="middle" fill="#000" letter-spacing="1.6" >BIOS</text>
<rect x="256.00" y="22.70" width="53.00" height="35.00" rx="5.5" ry="5.5" fill="#000" shape-rendering="geometricPrecision"/>
<rect x="264.23" y="22.70" width="1.20" height="1.60" fill="#fff" />
<rect x="264.23" y="56.10" width="1.20" height="1.60" fill="#fff" />
<rect x="273.07" y="22.70" width="1.20" height="1.60" fill="#fff" />
<rect x="273.07" y="56.10" width="1.20" height="1.60" fill="#fff" />
<rect x="281.90" y="22.70" width="1.20" height="1.60" fill="#fff" />
<rect x="281.90" y="56.10" width="1.20" height="1.60" fill="#fff" />
<rect x="290.73" y="22.70" width="1.20" height="1.60" fill="#fff" />
<rect x="290.73" y="56.10" width="1.20" height="1.60" fill="#fff" />
<rect x="299.57" y="22.70" width="1.20" height="1.60" fill="#fff" />
<rect x="299.57" y="56.10" width="1.20" height="1.60" fill="#fff" />
<rect x="256.00" y="30.85" width="1.60" height="1.20" fill="#fff" />
<rect x="307.40" y="30.85" width="1.60" height="1.20" fill="#fff" />
<rect x="256.00" y="39.60" width="1.60" height="1.20" fill="#fff" />
<rect x="307.40" y="39.60" width="1.60" height="1.20" fill="#fff" />
<rect x="256.00" y="48.35" width="1.60" height="1.20" fill="#fff" />
<rect x="307.40" y="48.35" width="1.60" height="1.20" fill="#fff" />
<rect x="369.30" y="187.70" width="52.90" height="52.50" rx="5.5" ry="5.5" fill="#000" shape-rendering="geometricPrecision"/>
<rect x="377.52" y="187.70" width="1.20" height="1.60" fill="#fff" />
<rect x="377.52" y="238.60" width="1.20" height="1.60" fill="#fff" />
<rect x="386.33" y="187.70" width="1.20" height="1.60" fill="#fff" />
<rect x="386.33" y="238.60" width="1.20" height="1.60" fill="#fff" />
<rect x="395.15" y="187.70" width="1.20" height="1.60" fill="#fff" />
<rect x="395.15" y="238.60" width="1.20" height="1.60" fill="#fff" />
<rect x="403.97" y="187.70" width="1.20" height="1.60" fill="#fff" />
<rect x="403.97" y="238.60" width="1.20" height="1.60" fill="#fff" />
<rect x="412.78" y="187.70" width="1.20" height="1.60" fill="#fff" />
<rect x="412.78" y="238.60" width="1.20" height="1.60" fill="#fff" />
<rect x="369.30" y="195.85" width="1.60" height="1.20" fill="#fff" />
<rect x="420.60" y="195.85" width="1.60" height="1.20" fill="#fff" />
<rect x="369.30" y="204.60" width="1.60" height="1.20" fill="#fff" />
<rect x="420.60" y="204.60" width="1.60" height="1.20" fill="#fff" />
<rect x="369.30" y="213.35" width="1.60" height="1.20" fill="#fff" />
<rect x="420.60" y="213.35" width="1.60" height="1.20" fill="#fff" />
<rect x="369.30" y="222.10" width="1.60" height="1.20" fill="#fff" />
<rect x="420.60" y="222.10" width="1.60" height="1.20" fill="#fff" />
<rect x="369.30" y="230.85" width="1.60" height="1.20" fill="#fff" />
<rect x="420.60" y="230.85" width="1.60" height="1.20" fill="#fff" />
<rect x="292.30" y="196.80" width="52.00" height="53.00" rx="5.5" ry="5.5" fill="#000" shape-rendering="geometricPrecision"/>
<rect x="300.37" y="196.80" width="1.20" height="1.60" fill="#fff" />
<rect x="300.37" y="248.20" width="1.20" height="1.60" fill="#fff" />
<rect x="309.03" y="196.80" width="1.20" height="1.60" fill="#fff" />
<rect x="309.03" y="248.20" width="1.20" height="1.60" fill="#fff" />
<rect x="317.70" y="196.80" width="1.20" height="1.60" fill="#fff" />
<rect x="317.70" y="248.20" width="1.20" height="1.60" fill="#fff" />
<rect x="326.37" y="196.80" width="1.20" height="1.60" fill="#fff" />
<rect x="326.37" y="248.20" width="1.20" height="1.60" fill="#fff" />
<rect x="335.03" y="196.80" width="1.20" height="1.60" fill="#fff" />
<rect x="335.03" y="248.20" width="1.20" height="1.60" fill="#fff" />
<rect x="292.30" y="205.03" width="1.60" height="1.20" fill="#fff" />
<rect x="342.70" y="205.03" width="1.60" height="1.20" fill="#fff" />
<rect x="292.30" y="213.87" width="1.60" height="1.20" fill="#fff" />
<rect x="342.70" y="213.87" width="1.60" height="1.20" fill="#fff" />
<rect x="292.30" y="222.70" width="1.60" height="1.20" fill="#fff" />
<rect x="342.70" y="222.70" width="1.60" height="1.20" fill="#fff" />
<rect x="292.30" y="231.53" width="1.60" height="1.20" fill="#fff" />
<rect x="342.70" y="231.53" width="1.60" height="1.20" fill="#fff" />
<rect x="292.30" y="240.37" width="1.60" height="1.20" fill="#fff" />
<rect x="342.70" y="240.37" width="1.60" height="1.20" fill="#fff" />
<rect x="256.00" y="333.80" width="53.10" height="53.30" rx="5.5" ry="5.5" fill="#000" shape-rendering="geometricPrecision"/>
<rect x="264.25" y="333.80" width="1.20" height="1.60" fill="#fff" />
<rect x="264.25" y="385.50" width="1.20" height="1.60" fill="#fff" />
<rect x="273.10" y="333.80" width="1.20" height="1.60" fill="#fff" />
<rect x="273.10" y="385.50" width="1.20" height="1.60" fill="#fff" />
<rect x="281.95" y="333.80" width="1.20" height="1.60" fill="#fff" />
<rect x="281.95" y="385.50" width="1.20" height="1.60" fill="#fff" />
<rect x="290.80" y="333.80" width="1.20" height="1.60" fill="#fff" />
<rect x="290.80" y="385.50" width="1.20" height="1.60" fill="#fff" />
<rect x="299.65" y="333.80" width="1.20" height="1.60" fill="#fff" />
<rect x="299.65" y="385.50" width="1.20" height="1.60" fill="#fff" />
<rect x="256.00" y="342.08" width="1.60" height="1.20" fill="#fff" />
<rect x="307.50" y="342.08" width="1.60" height="1.20" fill="#fff" />
<rect x="256.00" y="350.97" width="1.60" height="1.20" fill="#fff" />
<rect x="307.50" y="350.97" width="1.60" height="1.20" fill="#fff" />
<rect x="256.00" y="359.85" width="1.60" height="1.20" fill="#fff" />
<rect x="307.50" y="359.85" width="1.60" height="1.20" fill="#fff" />
<rect x="256.00" y="368.73" width="1.60" height="1.20" fill="#fff" />
<rect x="307.50" y="368.73" width="1.60" height="1.20" fill="#fff" />
<rect x="256.00" y="377.62" width="1.60" height="1.20" fill="#fff" />
<rect x="307.50" y="377.62" width="1.60" height="1.20" fill="#fff" />
<rect x="332.00" y="12.00" width="103.00" height="16.00" fill="#000" />
<rect x="338.00" y="18.00" width="90.00" height="4.00" fill="#fff" />
<rect x="443.00" y="12.00" width="161.00" height="16.00" fill="#000" />
<rect x="449.00" y="18.00" width="149.00" height="4.00" fill="#fff" />
<rect x="332.00" y="48.00" width="103.00" height="16.00" fill="#000" />
<rect x="338.00" y="54.00" width="90.00" height="4.00" fill="#fff" />
<rect x="443.00" y="48.00" width="161.00" height="16.00" fill="#000" />
<rect x="449.00" y="54.00" width="149.00" height="4.00" fill="#fff" />
<rect x="332.00" y="83.00" width="103.00" height="15.70" fill="#000" />
<rect x="338.00" y="89.00" width="90.00" height="5.00" fill="#fff" />
<rect x="443.00" y="83.00" width="161.00" height="15.70" fill="#000" />
<rect x="449.00" y="89.00" width="149.00" height="5.00" fill="#fff" />
<rect x="332.00" y="118.00" width="103.00" height="15.60" fill="#000" />
<rect x="338.00" y="123.60" width="90.00" height="4.40" fill="#fff" />
<rect x="443.00" y="118.00" width="161.00" height="15.60" fill="#000" />
<rect x="449.00" y="123.60" width="149.00" height="4.40" fill="#fff" />
<rect x="184.00" y="84.00" width="142.00" height="16.00" fill="#000" />
<rect x="188.60" y="90.00" width="19.40" height="4.00" fill="#fff" />
<rect x="212.00" y="90.00" width="110.20" height="4.00" fill="#fff" />
<rect x="184.00" y="120.00" width="142.00" height="14.70" fill="#000" />
<rect x="188.60" y="126.00" width="19.40" height="4.00" fill="#fff" />
<rect x="212.00" y="126.00" width="110.20" height="4.00" fill="#fff" />
<rect x="241.00" y="84.00" width="26.40" height="16.00" fill="#000" />
<rect x="242.50" y="86.00" width="23.50" height="12.00" fill="#fff" />
<text transform="translate(254.00,95.90) scale(0.93,1)" font-size="11" text-anchor="middle" fill="#000" >SL1</text>
<rect x="241.00" y="120.00" width="26.00" height="14.70" fill="#000" />
<rect x="242.50" y="121.60" width="23.00" height="11.80" fill="#fff" />
<text transform="translate(253.80,131.40) scale(0.93,1)" font-size="11" text-anchor="middle" fill="#000" >SL2</text>
<text transform="translate(520.20,40.30) scale(0.93,1)" font-size="10" text-anchor="middle" fill="#000" letter-spacing="0.2" >34189</text>
<rect x="613.00" y="60.00" width="34.00" height="101.50" fill="#000" />
<rect x="619.00" y="105.20" width="21.80" height="11.00" fill="#fff" />
<text transform="translate(630.00,114.70) scale(0.96,1)" font-size="11" text-anchor="middle" fill="#000" >KBD</text>
<rect x="432.30" y="153.00" width="140.90" height="15.00" fill="#000" />
<rect x="437.60" y="158.50" width="26.40" height="4.50" fill="#fff" />
<rect x="471.50" y="158.50" width="96.70" height="4.50" fill="#fff" />
<rect x="489.60" y="153.00" width="26.20" height="15.00" fill="#000" />
<rect x="491.00" y="154.80" width="23.40" height="11.40" fill="#fff" />
<text transform="translate(502.20,164.60) scale(0.93,1)" font-size="11" text-anchor="middle" fill="#000" >PC1</text>
<rect x="432.30" y="189.00" width="140.90" height="15.00" fill="#000" />
<rect x="437.60" y="194.50" width="26.40" height="4.50" fill="#fff" />
<rect x="471.50" y="194.50" width="96.70" height="4.50" fill="#fff" />
<rect x="489.60" y="189.00" width="26.20" height="15.00" fill="#000" />
<rect x="491.00" y="190.80" width="23.40" height="11.40" fill="#fff" />
<text transform="translate(502.20,200.60) scale(0.93,1)" font-size="11" text-anchor="middle" fill="#000" >PC2</text>
<rect x="432.30" y="224.60" width="140.90" height="15.00" fill="#000" />
<rect x="437.60" y="230.10" width="26.40" height="4.50" fill="#fff" />
<rect x="471.50" y="230.10" width="96.70" height="4.50" fill="#fff" />
<rect x="489.60" y="224.60" width="26.20" height="15.00" fill="#000" />
<rect x="491.00" y="226.40" width="23.40" height="11.40" fill="#fff" />
<text transform="translate(502.20,236.20) scale(0.93,1)" font-size="11" text-anchor="middle" fill="#000" >PC3</text>
<rect x="432.30" y="260.20" width="140.90" height="15.00" fill="#000" />
<rect x="437.60" y="265.70" width="26.40" height="4.50" fill="#fff" />
<rect x="471.50" y="265.70" width="96.70" height="4.50" fill="#fff" />
<rect x="489.60" y="260.20" width="26.20" height="15.00" fill="#000" />
<rect x="491.00" y="262.00" width="23.40" height="11.40" fill="#fff" />
<text transform="translate(502.20,271.80) scale(0.93,1)" font-size="11" text-anchor="middle" fill="#000" >PC4</text>
<rect x="172.00" y="114.00" width="11.00" height="5.70" fill="#000" />
<rect x="177.00" y="115.40" width="1.20" height="3.20" fill="#fff" />
<polygon points="175.00,99.80 180.20,99.80 178.40,114.00 176.80,114.00" fill="#000" shape-rendering="geometricPrecision"/>
<rect x="166.55" y="87.25" width="23.50" height="12.30" rx="1.5" ry="1.5" fill="#fff" stroke="#000" stroke-width="1.8" shape-rendering="geometricPrecision"/>
<text transform="translate(177.70,97.06) scale(0.95,1)" font-size="11" text-anchor="middle" fill="#000" >JP4</text>
<rect x="172.00" y="135.00" width="11.00" height="4.80" fill="#000" />
<rect x="177.00" y="136.00" width="1.20" height="2.80" fill="#fff" />
<polygon points="174.80,152.80 180.00,152.80 178.20,139.50 176.60,139.50" fill="#000" shape-rendering="geometricPrecision"/>
<rect x="164.25" y="153.05" width="25.00" height="14.10" rx="2.5" ry="2.5" fill="#fff" stroke="#000" stroke-width="1.8" shape-rendering="geometricPrecision"/>
<text transform="translate(176.15,163.76) scale(0.95,1)" font-size="11" text-anchor="middle" fill="#000" >JP3</text>
<rect x="585.00" y="167.50" width="10.80" height="4.00" fill="#000" />
<rect x="590.00" y="168.40" width="1.00" height="2.20" fill="#fff" />
<rect x="593.00" y="168.40" width="1.00" height="2.20" fill="#fff" />
<polygon points="587.00,154.10 592.20,154.10 590.40,167.50 588.80,167.50" fill="#000" shape-rendering="geometricPrecision"/>
<rect x="576.75" y="140.15" width="26.80" height="13.70" rx="3.5" ry="3.5" fill="#fff" stroke="#000" stroke-width="1.8" shape-rendering="geometricPrecision"/>
<text transform="translate(589.55,150.66) scale(0.95,1)" font-size="11" text-anchor="middle" fill="#000" >JP2</text>
<rect x="332.30" y="392.00" width="10.70" height="4.00" fill="#000" />
<rect x="337.20" y="393.00" width="1.00" height="2.00" fill="#fff" />
<polygon points="335.00,377.70 340.20,377.70 338.40,392.00 336.80,392.00" fill="#000" shape-rendering="geometricPrecision"/>
<rect x="328.35" y="365.15" width="18.60" height="12.30" rx="2.5" ry="2.5" fill="#fff" stroke="#000" stroke-width="1.8" shape-rendering="geometricPrecision"/>
<text transform="translate(337.05,374.96) scale(0.95,1)" font-size="11" text-anchor="middle" fill="#000" >W1</text>
<rect x="633.80" y="240.00" width="6.00" height="15.50" fill="#000" />
<rect x="635.00" y="246.30" width="3.60" height="1.20" fill="#fff" />
<rect x="635.00" y="249.60" width="3.60" height="4.40" fill="#fff" />
<rect x="636.20" y="250.80" width="1.40" height="2.00" fill="#000" />
<polygon points="622.40,245.30 622.40,250.50 634.00,248.70 634.00,247.10" fill="#000" shape-rendering="geometricPrecision"/>
<rect x="594.75" y="240.55" width="27.40" height="14.50" rx="3" ry="3" fill="#fff" stroke="#000" stroke-width="1.8" shape-rendering="geometricPrecision"/>
<text transform="translate(607.85,251.46) scale(0.95,1)" font-size="11" text-anchor="middle" fill="#000" >JP1</text>
<rect x="594.40" y="306.00" width="20.60" height="5.60" fill="#000" />
<rect x="598.80" y="307.20" width="1.00" height="3.40" fill="#fff" />
<rect x="608.00" y="307.20" width="1.00" height="3.40" fill="#fff" />
<rect x="612.60" y="307.20" width="1.00" height="3.40" fill="#fff" />
<polygon points="601.00,293.90 606.20,293.90 604.40,306.00 602.80,306.00" fill="#000" shape-rendering="geometricPrecision"/>
<rect x="594.05" y="280.05" width="18.80" height="13.60" rx="3.5" ry="3.5" fill="#fff" stroke="#000" stroke-width="1.8" shape-rendering="geometricPrecision"/>
<text transform="translate(602.85,290.51) scale(0.95,1)" font-size="11" text-anchor="middle" fill="#000" >J2</text>
<rect x="174.40" y="191.30" width="31.20" height="6.30" rx="3.1499999999999915" ry="3.1499999999999915" fill="#000" shape-rendering="geometricPrecision"/>
<rect x="178.10" y="193.65" width="1.80" height="1.60" fill="#fff" />
<rect x="182.82" y="193.65" width="1.80" height="1.60" fill="#fff" />
<rect x="187.54" y="193.65" width="1.80" height="1.60" fill="#fff" />
<rect x="192.26" y="193.65" width="1.80" height="1.60" fill="#fff" />
<rect x="196.98" y="193.65" width="1.80" height="1.60" fill="#fff" />
<rect x="201.70" y="193.65" width="1.80" height="1.60" fill="#fff" />
<rect x="174.40" y="197.60" width="31.20" height="6.70" rx="3.3500000000000085" ry="3.3500000000000085" fill="#000" shape-rendering="geometricPrecision"/>
<rect x="178.10" y="200.15" width="1.80" height="1.60" fill="#fff" />
<rect x="182.82" y="200.15" width="1.80" height="1.60" fill="#fff" />
<rect x="187.54" y="200.15" width="1.80" height="1.60" fill="#fff" />
<rect x="192.26" y="200.15" width="1.80" height="1.60" fill="#fff" />
<rect x="196.98" y="200.15" width="1.80" height="1.60" fill="#fff" />
<rect x="201.70" y="200.15" width="1.80" height="1.60" fill="#fff" />
<rect x="301.30" y="258.00" width="30.70" height="6.50" rx="3.25" ry="3.25" fill="#000" shape-rendering="geometricPrecision"/>
<rect x="305.00" y="260.45" width="1.80" height="1.60" fill="#fff" />
<rect x="309.72" y="260.45" width="1.80" height="1.60" fill="#fff" />
<rect x="314.44" y="260.45" width="1.80" height="1.60" fill="#fff" />
<rect x="319.16" y="260.45" width="1.80" height="1.60" fill="#fff" />
<rect x="323.88" y="260.45" width="1.80" height="1.60" fill="#fff" />
<rect x="328.60" y="260.45" width="1.80" height="1.60" fill="#fff" />
<rect x="301.30" y="264.50" width="30.70" height="6.50" rx="3.25" ry="3.25" fill="#000" shape-rendering="geometricPrecision"/>
<rect x="305.00" y="266.95" width="1.80" height="1.60" fill="#fff" />
<rect x="309.72" y="266.95" width="1.80" height="1.60" fill="#fff" />
<rect x="314.44" y="266.95" width="1.80" height="1.60" fill="#fff" />
<rect x="319.16" y="266.95" width="1.80" height="1.60" fill="#fff" />
<rect x="323.88" y="266.95" width="1.80" height="1.60" fill="#fff" />
<rect x="328.60" y="266.95" width="1.80" height="1.60" fill="#fff" />
<rect x="225.60" y="288.40" width="31.90" height="6.30" rx="3.1500000000000057" ry="3.1500000000000057" fill="#000" shape-rendering="geometricPrecision"/>
<rect x="229.30" y="290.75" width="1.80" height="1.60" fill="#fff" />
<rect x="234.02" y="290.75" width="1.80" height="1.60" fill="#fff" />
<rect x="238.74" y="290.75" width="1.80" height="1.60" fill="#fff" />
<rect x="243.46" y="290.75" width="1.80" height="1.60" fill="#fff" />
<rect x="248.18" y="290.75" width="1.80" height="1.60" fill="#fff" />
<rect x="252.90" y="290.75" width="1.80" height="1.60" fill="#fff" />
<rect x="225.60" y="294.70" width="31.90" height="6.20" rx="3.0999999999999943" ry="3.0999999999999943" fill="#000" shape-rendering="geometricPrecision"/>
<rect x="229.30" y="297.00" width="1.80" height="1.60" fill="#fff" />
<rect x="234.02" y="297.00" width="1.80" height="1.60" fill="#fff" />
<rect x="238.74" y="297.00" width="1.80" height="1.60" fill="#fff" />
<rect x="243.46" y="297.00" width="1.80" height="1.60" fill="#fff" />
<rect x="248.18" y="297.00" width="1.80" height="1.60" fill="#fff" />
<rect x="252.90" y="297.00" width="1.80" height="1.60" fill="#fff" />
<polygon points="214.10,180.10 214.10,185.30 205.00,193.80 205.00,192.20" fill="#000" shape-rendering="geometricPrecision"/>
<rect x="214.35" y="172.85" width="37.90" height="13.10" rx="1.5" ry="1.5" fill="#fff" stroke="#000" stroke-width="1.8" shape-rendering="geometricPrecision"/>
<text transform="translate(232.70,183.06) scale(0.95,1)" font-size="11" text-anchor="middle" fill="#000" >RN512</text>
<polygon points="218.30,198.60 218.30,203.80 206.00,202.00 206.00,200.40" fill="#000" shape-rendering="geometricPrecision"/>
<rect x="218.55" y="195.05" width="37.60" height="12.40" rx="1.5" ry="1.5" fill="#fff" stroke="#000" stroke-width="1.8" shape-rendering="geometricPrecision"/>
<text transform="translate(236.75,204.91) scale(0.95,1)" font-size="11" text-anchor="middle" fill="#000" >RN256</text>
<polygon points="340.90,249.10 340.90,254.30 331.00,260.80 331.00,259.20" fill="#000" shape-rendering="geometricPrecision"/>
<rect x="341.15" y="243.75" width="23.90" height="11.20" rx="1.5" ry="1.5" fill="#fff" stroke="#000" stroke-width="1.8" shape-rendering="geometricPrecision"/>
<text transform="translate(352.50,253.01) scale(0.95,1)" font-size="11" text-anchor="middle" fill="#000" >RN2</text>
<polygon points="347.50,265.90 347.50,271.10 332.00,269.30 332.00,267.70" fill="#000" shape-rendering="geometricPrecision"/>
<rect x="347.75" y="263.75" width="24.70" height="11.50" rx="1.5" ry="1.5" fill="#fff" stroke="#000" stroke-width="1.8" shape-rendering="geometricPrecision"/>
<text transform="translate(359.50,273.16) scale(0.95,1)" font-size="11" text-anchor="middle" fill="#000" >RN1</text>
<polygon points="270.10,288.40 270.10,293.60 257.00,291.80 257.00,290.20" fill="#000" shape-rendering="geometricPrecision"/>
<rect x="270.35" y="284.25" width="35.50" height="11.80" rx="1.5" ry="1.5" fill="#fff" stroke="#000" stroke-width="1.8" shape-rendering="geometricPrecision"/>
<text transform="translate(287.50,293.81) scale(0.95,1)" font-size="11" text-anchor="middle" fill="#000" >RN100</text>
<polygon points="264.90,305.80 264.90,311.00 256.00,298.80 256.00,297.20" fill="#000" shape-rendering="geometricPrecision"/>
<rect x="265.15" y="305.15" width="29.50" height="11.50" rx="1.5" ry="1.5" fill="#fff" stroke="#000" stroke-width="1.8" shape-rendering="geometricPrecision"/>
<text transform="translate(279.30,314.56) scale(0.95,1)" font-size="11" text-anchor="middle" fill="#000" >RN90</text>
<rect x="69.00" y="235.00" width="67.90" height="19.50" fill="#000" />
<rect x="71.00" y="237.00" width="2.80" height="3.80" fill="#fff" />
<rect x="71.00" y="249.10" width="2.80" height="3.80" fill="#fff" />
<rect x="75.71" y="237.00" width="2.80" height="3.80" fill="#fff" />
<rect x="75.71" y="249.10" width="2.80" height="3.80" fill="#fff" />
<rect x="80.42" y="237.00" width="2.80" height="3.80" fill="#fff" />
<rect x="80.42" y="249.10" width="2.80" height="3.80" fill="#fff" />
<rect x="85.13" y="237.00" width="2.80" height="3.80" fill="#fff" />
<rect x="85.13" y="249.10" width="2.80" height="3.80" fill="#fff" />
<rect x="89.84" y="237.00" width="2.80" height="3.80" fill="#fff" />
<rect x="89.84" y="249.10" width="2.80" height="3.80" fill="#fff" />
<rect x="94.55" y="237.00" width="2.80" height="3.80" fill="#fff" />
<rect x="94.55" y="249.10" width="2.80" height="3.80" fill="#fff" />
<rect x="99.26" y="237.00" width="2.80" height="3.80" fill="#fff" />
<rect x="99.26" y="249.10" width="2.80" height="3.80" fill="#fff" />
<rect x="103.97" y="237.00" width="2.80" height="3.80" fill="#fff" />
<rect x="103.97" y="249.10" width="2.80" height="3.80" fill="#fff" />
<rect x="108.68" y="237.00" width="2.80" height="3.80" fill="#fff" />
<rect x="108.68" y="249.10" width="2.80" height="3.80" fill="#fff" />
<rect x="113.39" y="237.00" width="2.80" height="3.80" fill="#fff" />
<rect x="113.39" y="249.10" width="2.80" height="3.80" fill="#fff" />
<rect x="118.10" y="237.00" width="2.80" height="3.80" fill="#fff" />
<rect x="118.10" y="249.10" width="2.80" height="3.80" fill="#fff" />
<rect x="122.81" y="237.00" width="2.80" height="3.80" fill="#fff" />
<rect x="122.81" y="249.10" width="2.80" height="3.80" fill="#fff" />
<rect x="127.52" y="237.00" width="2.80" height="3.80" fill="#fff" />
<rect x="127.52" y="249.10" width="2.80" height="3.80" fill="#fff" />
<rect x="132.23" y="237.00" width="2.80" height="3.80" fill="#fff" />
<rect x="132.23" y="249.10" width="2.80" height="3.80" fill="#fff" />
<rect x="74.00" y="243.10" width="25.00" height="3.80" fill="#fff" />
<rect x="104.00" y="243.10" width="27.00" height="3.80" fill="#fff" />
<rect x="135.00" y="243.10" width="1.90" height="3.80" fill="#fff" />
<rect x="142.90" y="235.00" width="67.90" height="19.50" fill="#000" />
<rect x="144.90" y="237.00" width="2.80" height="3.80" fill="#fff" />
<rect x="144.90" y="249.10" width="2.80" height="3.80" fill="#fff" />
<rect x="149.61" y="237.00" width="2.80" height="3.80" fill="#fff" />
<rect x="149.61" y="249.10" width="2.80" height="3.80" fill="#fff" />
<rect x="154.32" y="237.00" width="2.80" height="3.80" fill="#fff" />
<rect x="154.32" y="249.10" width="2.80" height="3.80" fill="#fff" />
<rect x="159.03" y="237.00" width="2.80" height="3.80" fill="#fff" />
<rect x="159.03" y="249.10" width="2.80" height="3.80" fill="#fff" />
<rect x="163.74" y="237.00" width="2.80" height="3.80" fill="#fff" />
<rect x="163.74" y="249.10" width="2.80" height="3.80" fill="#fff" />
<rect x="168.45" y="237.00" width="2.80" height="3.80" fill="#fff" />
<rect x="168.45" y="249.10" width="2.80" height="3.80" fill="#fff" />
<rect x="173.16" y="237.00" width="2.80" height="3.80" fill="#fff" />
<rect x="173.16" y="249.10" width="2.80" height="3.80" fill="#fff" />
<rect x="177.87" y="237.00" width="2.80" height="3.80" fill="#fff" />
<rect x="177.87" y="249.10" width="2.80" height="3.80" fill="#fff" />
<rect x="182.58" y="237.00" width="2.80" height="3.80" fill="#fff" />
<rect x="182.58" y="249.10" width="2.80" height="3.80" fill="#fff" />
<rect x="187.29" y="237.00" width="2.80" height="3.80" fill="#fff" />
<rect x="187.29" y="249.10" width="2.80" height="3.80" fill="#fff" />
<rect x="192.00" y="237.00" width="2.80" height="3.80" fill="#fff" />
<rect x="192.00" y="249.10" width="2.80" height="3.80" fill="#fff" />
<rect x="196.71" y="237.00" width="2.80" height="3.80" fill="#fff" />
<rect x="196.71" y="249.10" width="2.80" height="3.80" fill="#fff" />
<rect x="201.42" y="237.00" width="2.80" height="3.80" fill="#fff" />
<rect x="201.42" y="249.10" width="2.80" height="3.80" fill="#fff" />
<rect x="206.13" y="237.00" width="2.80" height="3.80" fill="#fff" />
<rect x="206.13" y="249.10" width="2.80" height="3.80" fill="#fff" />
<rect x="147.90" y="243.10" width="25.00" height="3.80" fill="#fff" />
<rect x="177.90" y="243.10" width="27.00" height="3.80" fill="#fff" />
<rect x="208.90" y="243.10" width="1.90" height="3.80" fill="#fff" />
<rect x="69.00" y="255.86" width="67.90" height="19.50" fill="#000" />
<rect x="71.00" y="257.86" width="2.80" height="3.80" fill="#fff" />
<rect x="71.00" y="269.96" width="2.80" height="3.80" fill="#fff" />
<rect x="75.71" y="257.86" width="2.80" height="3.80" fill="#fff" />
<rect x="75.71" y="269.96" width="2.80" height="3.80" fill="#fff" />
<rect x="80.42" y="257.86" width="2.80" height="3.80" fill="#fff" />
<rect x="80.42" y="269.96" width="2.80" height="3.80" fill="#fff" />
<rect x="85.13" y="257.86" width="2.80" height="3.80" fill="#fff" />
<rect x="85.13" y="269.96" width="2.80" height="3.80" fill="#fff" />
<rect x="89.84" y="257.86" width="2.80" height="3.80" fill="#fff" />
<rect x="89.84" y="269.96" width="2.80" height="3.80" fill="#fff" />
<rect x="94.55" y="257.86" width="2.80" height="3.80" fill="#fff" />
<rect x="94.55" y="269.96" width="2.80" height="3.80" fill="#fff" />
<rect x="99.26" y="257.86" width="2.80" height="3.80" fill="#fff" />
<rect x="99.26" y="269.96" width="2.80" height="3.80" fill="#fff" />
<rect x="103.97" y="257.86" width="2.80" height="3.80" fill="#fff" />
<rect x="103.97" y="269.96" width="2.80" height="3.80" fill="#fff" />
<rect x="108.68" y="257.86" width="2.80" height="3.80" fill="#fff" />
<rect x="108.68" y="269.96" width="2.80" height="3.80" fill="#fff" />
<rect x="113.39" y="257.86" width="2.80" height="3.80" fill="#fff" />
<rect x="113.39" y="269.96" width="2.80" height="3.80" fill="#fff" />
<rect x="118.10" y="257.86" width="2.80" height="3.80" fill="#fff" />
<rect x="118.10" y="269.96" width="2.80" height="3.80" fill="#fff" />
<rect x="122.81" y="257.86" width="2.80" height="3.80" fill="#fff" />
<rect x="122.81" y="269.96" width="2.80" height="3.80" fill="#fff" />
<rect x="127.52" y="257.86" width="2.80" height="3.80" fill="#fff" />
<rect x="127.52" y="269.96" width="2.80" height="3.80" fill="#fff" />
<rect x="132.23" y="257.86" width="2.80" height="3.80" fill="#fff" />
<rect x="132.23" y="269.96" width="2.80" height="3.80" fill="#fff" />
<rect x="74.00" y="263.96" width="25.00" height="3.80" fill="#fff" />
<rect x="104.00" y="263.96" width="27.00" height="3.80" fill="#fff" />
<rect x="135.00" y="263.96" width="1.90" height="3.80" fill="#fff" />
<rect x="142.90" y="255.86" width="67.90" height="19.50" fill="#000" />
<rect x="144.90" y="257.86" width="2.80" height="3.80" fill="#fff" />
<rect x="144.90" y="269.96" width="2.80" height="3.80" fill="#fff" />
<rect x="149.61" y="257.86" width="2.80" height="3.80" fill="#fff" />
<rect x="149.61" y="269.96" width="2.80" height="3.80" fill="#fff" />
<rect x="154.32" y="257.86" width="2.80" height="3.80" fill="#fff" />
<rect x="154.32" y="269.96" width="2.80" height="3.80" fill="#fff" />
<rect x="159.03" y="257.86" width="2.80" height="3.80" fill="#fff" />
<rect x="159.03" y="269.96" width="2.80" height="3.80" fill="#fff" />
<rect x="163.74" y="257.86" width="2.80" height="3.80" fill="#fff" />
<rect x="163.74" y="269.96" width="2.80" height="3.80" fill="#fff" />
<rect x="168.45" y="257.86" width="2.80" height="3.80" fill="#fff" />
<rect x="168.45" y="269.96" width="2.80" height="3.80" fill="#fff" />
<rect x="173.16" y="257.86" width="2.80" height="3.80" fill="#fff" />
<rect x="173.16" y="269.96" width="2.80" height="3.80" fill="#fff" />
<rect x="177.87" y="257.86" width="2.80" height="3.80" fill="#fff" />
<rect x="177.87" y="269.96" width="2.80" height="3.80" fill="#fff" />
<rect x="182.58" y="257.86" width="2.80" height="3.80" fill="#fff" />
<rect x="182.58" y="269.96" width="2.80" height="3.80" fill="#fff" />
<rect x="187.29" y="257.86" width="2.80" height="3.80" fill="#fff" />
<rect x="187.29" y="269.96" width="2.80" height="3.80" fill="#fff" />
<rect x="192.00" y="257.86" width="2.80" height="3.80" fill="#fff" />
<rect x="192.00" y="269.96" width="2.80" height="3.80" fill="#fff" />
<rect x="196.71" y="257.86" width="2.80" height="3.80" fill="#fff" />
<rect x="196.71" y="269.96" width="2.80" height="3.80" fill="#fff" />
<rect x="201.42" y="257.86" width="2.80" height="3.80" fill="#fff" />
<rect x="201.42" y="269.96" width="2.80" height="3.80" fill="#fff" />
<rect x="206.13" y="257.86" width="2.80" height="3.80" fill="#fff" />
<rect x="206.13" y="269.96" width="2.80" height="3.80" fill="#fff" />
<rect x="147.90" y="263.96" width="25.00" height="3.80" fill="#fff" />
<rect x="177.90" y="263.96" width="27.00" height="3.80" fill="#fff" />
<rect x="208.90" y="263.96" width="1.90" height="3.80" fill="#fff" />
<rect x="69.00" y="276.72" width="67.90" height="19.50" fill="#000" />
<rect x="71.00" y="278.72" width="2.80" height="3.80" fill="#fff" />
<rect x="71.00" y="290.82" width="2.80" height="3.80" fill="#fff" />
<rect x="75.71" y="278.72" width="2.80" height="3.80" fill="#fff" />
<rect x="75.71" y="290.82" width="2.80" height="3.80" fill="#fff" />
<rect x="80.42" y="278.72" width="2.80" height="3.80" fill="#fff" />
<rect x="80.42" y="290.82" width="2.80" height="3.80" fill="#fff" />
<rect x="85.13" y="278.72" width="2.80" height="3.80" fill="#fff" />
<rect x="85.13" y="290.82" width="2.80" height="3.80" fill="#fff" />
<rect x="89.84" y="278.72" width="2.80" height="3.80" fill="#fff" />
<rect x="89.84" y="290.82" width="2.80" height="3.80" fill="#fff" />
<rect x="94.55" y="278.72" width="2.80" height="3.80" fill="#fff" />
<rect x="94.55" y="290.82" width="2.80" height="3.80" fill="#fff" />
<rect x="99.26" y="278.72" width="2.80" height="3.80" fill="#fff" />
<rect x="99.26" y="290.82" width="2.80" height="3.80" fill="#fff" />
<rect x="103.97" y="278.72" width="2.80" height="3.80" fill="#fff" />
<rect x="103.97" y="290.82" width="2.80" height="3.80" fill="#fff" />
<rect x="108.68" y="278.72" width="2.80" height="3.80" fill="#fff" />
<rect x="108.68" y="290.82" width="2.80" height="3.80" fill="#fff" />
<rect x="113.39" y="278.72" width="2.80" height="3.80" fill="#fff" />
<rect x="113.39" y="290.82" width="2.80" height="3.80" fill="#fff" />
<rect x="118.10" y="278.72" width="2.80" height="3.80" fill="#fff" />
<rect x="118.10" y="290.82" width="2.80" height="3.80" fill="#fff" />
<rect x="122.81" y="278.72" width="2.80" height="3.80" fill="#fff" />
<rect x="122.81" y="290.82" width="2.80" height="3.80" fill="#fff" />
<rect x="127.52" y="278.72" width="2.80" height="3.80" fill="#fff" />
<rect x="127.52" y="290.82" width="2.80" height="3.80" fill="#fff" />
<rect x="132.23" y="278.72" width="2.80" height="3.80" fill="#fff" />
<rect x="132.23" y="290.82" width="2.80" height="3.80" fill="#fff" />
<rect x="74.00" y="284.82" width="25.00" height="3.80" fill="#fff" />
<rect x="104.00" y="284.82" width="27.00" height="3.80" fill="#fff" />
<rect x="135.00" y="284.82" width="1.90" height="3.80" fill="#fff" />
<rect x="142.90" y="276.72" width="67.90" height="19.50" fill="#000" />
<rect x="144.90" y="278.72" width="2.80" height="3.80" fill="#fff" />
<rect x="144.90" y="290.82" width="2.80" height="3.80" fill="#fff" />
<rect x="149.61" y="278.72" width="2.80" height="3.80" fill="#fff" />
<rect x="149.61" y="290.82" width="2.80" height="3.80" fill="#fff" />
<rect x="154.32" y="278.72" width="2.80" height="3.80" fill="#fff" />
<rect x="154.32" y="290.82" width="2.80" height="3.80" fill="#fff" />
<rect x="159.03" y="278.72" width="2.80" height="3.80" fill="#fff" />
<rect x="159.03" y="290.82" width="2.80" height="3.80" fill="#fff" />
<rect x="163.74" y="278.72" width="2.80" height="3.80" fill="#fff" />
<rect x="163.74" y="290.82" width="2.80" height="3.80" fill="#fff" />
<rect x="168.45" y="278.72" width="2.80" height="3.80" fill="#fff" />
<rect x="168.45" y="290.82" width="2.80" height="3.80" fill="#fff" />
<rect x="173.16" y="278.72" width="2.80" height="3.80" fill="#fff" />
<rect x="173.16" y="290.82" width="2.80" height="3.80" fill="#fff" />
<rect x="177.87" y="278.72" width="2.80" height="3.80" fill="#fff" />
<rect x="177.87" y="290.82" width="2.80" height="3.80" fill="#fff" />
<rect x="182.58" y="278.72" width="2.80" height="3.80" fill="#fff" />
<rect x="182.58" y="290.82" width="2.80" height="3.80" fill="#fff" />
<rect x="187.29" y="278.72" width="2.80" height="3.80" fill="#fff" />
<rect x="187.29" y="290.82" width="2.80" height="3.80" fill="#fff" />
<rect x="192.00" y="278.72" width="2.80" height="3.80" fill="#fff" />
<rect x="192.00" y="290.82" width="2.80" height="3.80" fill="#fff" />
<rect x="196.71" y="278.72" width="2.80" height="3.80" fill="#fff" />
<rect x="196.71" y="290.82" width="2.80" height="3.80" fill="#fff" />
<rect x="201.42" y="278.72" width="2.80" height="3.80" fill="#fff" />
<rect x="201.42" y="290.82" width="2.80" height="3.80" fill="#fff" />
<rect x="206.13" y="278.72" width="2.80" height="3.80" fill="#fff" />
<rect x="206.13" y="290.82" width="2.80" height="3.80" fill="#fff" />
<rect x="147.90" y="284.82" width="25.00" height="3.80" fill="#fff" />
<rect x="177.90" y="284.82" width="27.00" height="3.80" fill="#fff" />
<rect x="208.90" y="284.82" width="1.90" height="3.80" fill="#fff" />
<rect x="69.00" y="297.58" width="67.90" height="19.50" fill="#000" />
<rect x="71.00" y="299.58" width="2.80" height="3.80" fill="#fff" />
<rect x="71.00" y="311.68" width="2.80" height="3.80" fill="#fff" />
<rect x="75.71" y="299.58" width="2.80" height="3.80" fill="#fff" />
<rect x="75.71" y="311.68" width="2.80" height="3.80" fill="#fff" />
<rect x="80.42" y="299.58" width="2.80" height="3.80" fill="#fff" />
<rect x="80.42" y="311.68" width="2.80" height="3.80" fill="#fff" />
<rect x="85.13" y="299.58" width="2.80" height="3.80" fill="#fff" />
<rect x="85.13" y="311.68" width="2.80" height="3.80" fill="#fff" />
<rect x="89.84" y="299.58" width="2.80" height="3.80" fill="#fff" />
<rect x="89.84" y="311.68" width="2.80" height="3.80" fill="#fff" />
<rect x="94.55" y="299.58" width="2.80" height="3.80" fill="#fff" />
<rect x="94.55" y="311.68" width="2.80" height="3.80" fill="#fff" />
<rect x="99.26" y="299.58" width="2.80" height="3.80" fill="#fff" />
<rect x="99.26" y="311.68" width="2.80" height="3.80" fill="#fff" />
<rect x="103.97" y="299.58" width="2.80" height="3.80" fill="#fff" />
<rect x="103.97" y="311.68" width="2.80" height="3.80" fill="#fff" />
<rect x="108.68" y="299.58" width="2.80" height="3.80" fill="#fff" />
<rect x="108.68" y="311.68" width="2.80" height="3.80" fill="#fff" />
<rect x="113.39" y="299.58" width="2.80" height="3.80" fill="#fff" />
<rect x="113.39" y="311.68" width="2.80" height="3.80" fill="#fff" />
<rect x="118.10" y="299.58" width="2.80" height="3.80" fill="#fff" />
<rect x="118.10" y="311.68" width="2.80" height="3.80" fill="#fff" />
<rect x="122.81" y="299.58" width="2.80" height="3.80" fill="#fff" />
<rect x="122.81" y="311.68" width="2.80" height="3.80" fill="#fff" />
<rect x="127.52" y="299.58" width="2.80" height="3.80" fill="#fff" />
<rect x="127.52" y="311.68" width="2.80" height="3.80" fill="#fff" />
<rect x="132.23" y="299.58" width="2.80" height="3.80" fill="#fff" />
<rect x="132.23" y="311.68" width="2.80" height="3.80" fill="#fff" />
<rect x="74.00" y="305.68" width="25.00" height="3.80" fill="#fff" />
<rect x="104.00" y="305.68" width="27.00" height="3.80" fill="#fff" />
<rect x="135.00" y="305.68" width="1.90" height="3.80" fill="#fff" />
<rect x="142.90" y="297.58" width="67.90" height="19.50" fill="#000" />
<rect x="144.90" y="299.58" width="2.80" height="3.80" fill="#fff" />
<rect x="144.90" y="311.68" width="2.80" height="3.80" fill="#fff" />
<rect x="149.61" y="299.58" width="2.80" height="3.80" fill="#fff" />
<rect x="149.61" y="311.68" width="2.80" height="3.80" fill="#fff" />
<rect x="154.32" y="299.58" width="2.80" height="3.80" fill="#fff" />
<rect x="154.32" y="311.68" width="2.80" height="3.80" fill="#fff" />
<rect x="159.03" y="299.58" width="2.80" height="3.80" fill="#fff" />
<rect x="159.03" y="311.68" width="2.80" height="3.80" fill="#fff" />
<rect x="163.74" y="299.58" width="2.80" height="3.80" fill="#fff" />
<rect x="163.74" y="311.68" width="2.80" height="3.80" fill="#fff" />
<rect x="168.45" y="299.58" width="2.80" height="3.80" fill="#fff" />
<rect x="168.45" y="311.68" width="2.80" height="3.80" fill="#fff" />
<rect x="173.16" y="299.58" width="2.80" height="3.80" fill="#fff" />
<rect x="173.16" y="311.68" width="2.80" height="3.80" fill="#fff" />
<rect x="177.87" y="299.58" width="2.80" height="3.80" fill="#fff" />
<rect x="177.87" y="311.68" width="2.80" height="3.80" fill="#fff" />
<rect x="182.58" y="299.58" width="2.80" height="3.80" fill="#fff" />
<rect x="182.58" y="311.68" width="2.80" height="3.80" fill="#fff" />
<rect x="187.29" y="299.58" width="2.80" height="3.80" fill="#fff" />
<rect x="187.29" y="311.68" width="2.80" height="3.80" fill="#fff" />
<rect x="192.00" y="299.58" width="2.80" height="3.80" fill="#fff" />
<rect x="192.00" y="311.68" width="2.80" height="3.80" fill="#fff" />
<rect x="196.71" y="299.58" width="2.80" height="3.80" fill="#fff" />
<rect x="196.71" y="311.68" width="2.80" height="3.80" fill="#fff" />
<rect x="201.42" y="299.58" width="2.80" height="3.80" fill="#fff" />
<rect x="201.42" y="311.68" width="2.80" height="3.80" fill="#fff" />
<rect x="206.13" y="299.58" width="2.80" height="3.80" fill="#fff" />
<rect x="206.13" y="311.68" width="2.80" height="3.80" fill="#fff" />
<rect x="147.90" y="305.68" width="25.00" height="3.80" fill="#fff" />
<rect x="177.90" y="305.68" width="27.00" height="3.80" fill="#fff" />
<rect x="208.90" y="305.68" width="1.90" height="3.80" fill="#fff" />
<rect x="69.00" y="318.44" width="67.90" height="19.50" fill="#000" />
<rect x="71.00" y="320.44" width="2.80" height="3.80" fill="#fff" />
<rect x="71.00" y="332.54" width="2.80" height="3.80" fill="#fff" />
<rect x="75.71" y="320.44" width="2.80" height="3.80" fill="#fff" />
<rect x="75.71" y="332.54" width="2.80" height="3.80" fill="#fff" />
<rect x="80.42" y="320.44" width="2.80" height="3.80" fill="#fff" />
<rect x="80.42" y="332.54" width="2.80" height="3.80" fill="#fff" />
<rect x="85.13" y="320.44" width="2.80" height="3.80" fill="#fff" />
<rect x="85.13" y="332.54" width="2.80" height="3.80" fill="#fff" />
<rect x="89.84" y="320.44" width="2.80" height="3.80" fill="#fff" />
<rect x="89.84" y="332.54" width="2.80" height="3.80" fill="#fff" />
<rect x="94.55" y="320.44" width="2.80" height="3.80" fill="#fff" />
<rect x="94.55" y="332.54" width="2.80" height="3.80" fill="#fff" />
<rect x="99.26" y="320.44" width="2.80" height="3.80" fill="#fff" />
<rect x="99.26" y="332.54" width="2.80" height="3.80" fill="#fff" />
<rect x="103.97" y="320.44" width="2.80" height="3.80" fill="#fff" />
<rect x="103.97" y="332.54" width="2.80" height="3.80" fill="#fff" />
<rect x="108.68" y="320.44" width="2.80" height="3.80" fill="#fff" />
<rect x="108.68" y="332.54" width="2.80" height="3.80" fill="#fff" />
<rect x="113.39" y="320.44" width="2.80" height="3.80" fill="#fff" />
<rect x="113.39" y="332.54" width="2.80" height="3.80" fill="#fff" />
<rect x="118.10" y="320.44" width="2.80" height="3.80" fill="#fff" />
<rect x="118.10" y="332.54" width="2.80" height="3.80" fill="#fff" />
<rect x="122.81" y="320.44" width="2.80" height="3.80" fill="#fff" />
<rect x="122.81" y="332.54" width="2.80" height="3.80" fill="#fff" />
<rect x="127.52" y="320.44" width="2.80" height="3.80" fill="#fff" />
<rect x="127.52" y="332.54" width="2.80" height="3.80" fill="#fff" />
<rect x="132.23" y="320.44" width="2.80" height="3.80" fill="#fff" />
<rect x="132.23" y="332.54" width="2.80" height="3.80" fill="#fff" />
<rect x="74.00" y="326.54" width="25.00" height="3.80" fill="#fff" />
<rect x="104.00" y="326.54" width="27.00" height="3.80" fill="#fff" />
<rect x="135.00" y="326.54" width="1.90" height="3.80" fill="#fff" />
<rect x="142.90" y="318.44" width="67.90" height="19.50" fill="#000" />
<rect x="144.90" y="320.44" width="2.80" height="3.80" fill="#fff" />
<rect x="144.90" y="332.54" width="2.80" height="3.80" fill="#fff" />
<rect x="149.61" y="320.44" width="2.80" height="3.80" fill="#fff" />
<rect x="149.61" y="332.54" width="2.80" height="3.80" fill="#fff" />
<rect x="154.32" y="320.44" width="2.80" height="3.80" fill="#fff" />
<rect x="154.32" y="332.54" width="2.80" height="3.80" fill="#fff" />
<rect x="159.03" y="320.44" width="2.80" height="3.80" fill="#fff" />
<rect x="159.03" y="332.54" width="2.80" height="3.80" fill="#fff" />
<rect x="163.74" y="320.44" width="2.80" height="3.80" fill="#fff" />
<rect x="163.74" y="332.54" width="2.80" height="3.80" fill="#fff" />
<rect x="168.45" y="320.44" width="2.80" height="3.80" fill="#fff" />
<rect x="168.45" y="332.54" width="2.80" height="3.80" fill="#fff" />
<rect x="173.16" y="320.44" width="2.80" height="3.80" fill="#fff" />
<rect x="173.16" y="332.54" width="2.80" height="3.80" fill="#fff" />
<rect x="177.87" y="320.44" width="2.80" height="3.80" fill="#fff" />
<rect x="177.87" y="332.54" width="2.80" height="3.80" fill="#fff" />
<rect x="182.58" y="320.44" width="2.80" height="3.80" fill="#fff" />
<rect x="182.58" y="332.54" width="2.80" height="3.80" fill="#fff" />
<rect x="187.29" y="320.44" width="2.80" height="3.80" fill="#fff" />
<rect x="187.29" y="332.54" width="2.80" height="3.80" fill="#fff" />
<rect x="192.00" y="320.44" width="2.80" height="3.80" fill="#fff" />
<rect x="192.00" y="332.54" width="2.80" height="3.80" fill="#fff" />
<rect x="196.71" y="320.44" width="2.80" height="3.80" fill="#fff" />
<rect x="196.71" y="332.54" width="2.80" height="3.80" fill="#fff" />
<rect x="201.42" y="320.44" width="2.80" height="3.80" fill="#fff" />
<rect x="201.42" y="332.54" width="2.80" height="3.80" fill="#fff" />
<rect x="206.13" y="320.44" width="2.80" height="3.80" fill="#fff" />
<rect x="206.13" y="332.54" width="2.80" height="3.80" fill="#fff" />
<rect x="147.90" y="326.54" width="25.00" height="3.80" fill="#fff" />
<rect x="177.90" y="326.54" width="27.00" height="3.80" fill="#fff" />
<rect x="208.90" y="326.54" width="1.90" height="3.80" fill="#fff" />
<rect x="69.00" y="339.30" width="67.90" height="19.50" fill="#000" />
<rect x="71.00" y="341.30" width="2.80" height="3.80" fill="#fff" />
<rect x="71.00" y="353.40" width="2.80" height="3.80" fill="#fff" />
<rect x="75.71" y="341.30" width="2.80" height="3.80" fill="#fff" />
<rect x="75.71" y="353.40" width="2.80" height="3.80" fill="#fff" />
<rect x="80.42" y="341.30" width="2.80" height="3.80" fill="#fff" />
<rect x="80.42" y="353.40" width="2.80" height="3.80" fill="#fff" />
<rect x="85.13" y="341.30" width="2.80" height="3.80" fill="#fff" />
<rect x="85.13" y="353.40" width="2.80" height="3.80" fill="#fff" />
<rect x="89.84" y="341.30" width="2.80" height="3.80" fill="#fff" />
<rect x="89.84" y="353.40" width="2.80" height="3.80" fill="#fff" />
<rect x="94.55" y="341.30" width="2.80" height="3.80" fill="#fff" />
<rect x="94.55" y="353.40" width="2.80" height="3.80" fill="#fff" />
<rect x="99.26" y="341.30" width="2.80" height="3.80" fill="#fff" />
<rect x="99.26" y="353.40" width="2.80" height="3.80" fill="#fff" />
<rect x="103.97" y="341.30" width="2.80" height="3.80" fill="#fff" />
<rect x="103.97" y="353.40" width="2.80" height="3.80" fill="#fff" />
<rect x="108.68" y="341.30" width="2.80" height="3.80" fill="#fff" />
<rect x="108.68" y="353.40" width="2.80" height="3.80" fill="#fff" />
<rect x="113.39" y="341.30" width="2.80" height="3.80" fill="#fff" />
<rect x="113.39" y="353.40" width="2.80" height="3.80" fill="#fff" />
<rect x="118.10" y="341.30" width="2.80" height="3.80" fill="#fff" />
<rect x="118.10" y="353.40" width="2.80" height="3.80" fill="#fff" />
<rect x="122.81" y="341.30" width="2.80" height="3.80" fill="#fff" />
<rect x="122.81" y="353.40" width="2.80" height="3.80" fill="#fff" />
<rect x="127.52" y="341.30" width="2.80" height="3.80" fill="#fff" />
<rect x="127.52" y="353.40" width="2.80" height="3.80" fill="#fff" />
<rect x="132.23" y="341.30" width="2.80" height="3.80" fill="#fff" />
<rect x="132.23" y="353.40" width="2.80" height="3.80" fill="#fff" />
<rect x="74.00" y="347.40" width="25.00" height="3.80" fill="#fff" />
<rect x="104.00" y="347.40" width="27.00" height="3.80" fill="#fff" />
<rect x="135.00" y="347.40" width="1.90" height="3.80" fill="#fff" />
<rect x="142.90" y="339.30" width="67.90" height="19.50" fill="#000" />
<rect x="144.90" y="341.30" width="2.80" height="3.80" fill="#fff" />
<rect x="144.90" y="353.40" width="2.80" height="3.80" fill="#fff" />
<rect x="149.61" y="341.30" width="2.80" height="3.80" fill="#fff" />
<rect x="149.61" y="353.40" width="2.80" height="3.80" fill="#fff" />
<rect x="154.32" y="341.30" width="2.80" height="3.80" fill="#fff" />
<rect x="154.32" y="353.40" width="2.80" height="3.80" fill="#fff" />
<rect x="159.03" y="341.30" width="2.80" height="3.80" fill="#fff" />
<rect x="159.03" y="353.40" width="2.80" height="3.80" fill="#fff" />
<rect x="163.74" y="341.30" width="2.80" height="3.80" fill="#fff" />
<rect x="163.74" y="353.40" width="2.80" height="3.80" fill="#fff" />
<rect x="168.45" y="341.30" width="2.80" height="3.80" fill="#fff" />
<rect x="168.45" y="353.40" width="2.80" height="3.80" fill="#fff" />
<rect x="173.16" y="341.30" width="2.80" height="3.80" fill="#fff" />
<rect x="173.16" y="353.40" width="2.80" height="3.80" fill="#fff" />
<rect x="177.87" y="341.30" width="2.80" height="3.80" fill="#fff" />
<rect x="177.87" y="353.40" width="2.80" height="3.80" fill="#fff" />
<rect x="182.58" y="341.30" width="2.80" height="3.80" fill="#fff" />
<rect x="182.58" y="353.40" width="2.80" height="3.80" fill="#fff" />
<rect x="187.29" y="341.30" width="2.80" height="3.80" fill="#fff" />
<rect x="187.29" y="353.40" width="2.80" height="3.80" fill="#fff" />
<rect x="192.00" y="341.30" width="2.80" height="3.80" fill="#fff" />
<rect x="192.00" y="353.40" width="2.80" height="3.80" fill="#fff" />
<rect x="196.71" y="341.30" width="2.80" height="3.80" fill="#fff" />
<rect x="196.71" y="353.40" width="2.80" height="3.80" fill="#fff" />
<rect x="201.42" y="341.30" width="2.80" height="3.80" fill="#fff" />
<rect x="201.42" y="353.40" width="2.80" height="3.80" fill="#fff" />
<rect x="206.13" y="341.30" width="2.80" height="3.80" fill="#fff" />
<rect x="206.13" y="353.40" width="2.80" height="3.80" fill="#fff" />
<rect x="147.90" y="347.40" width="25.00" height="3.80" fill="#fff" />
<rect x="177.90" y="347.40" width="27.00" height="3.80" fill="#fff" />
<rect x="208.90" y="347.40" width="1.90" height="3.80" fill="#fff" />
<rect x="69.00" y="360.16" width="67.90" height="19.50" fill="#000" />
<rect x="71.00" y="362.16" width="2.80" height="3.80" fill="#fff" />
<rect x="71.00" y="374.26" width="2.80" height="3.80" fill="#fff" />
<rect x="75.71" y="362.16" width="2.80" height="3.80" fill="#fff" />
<rect x="75.71" y="374.26" width="2.80" height="3.80" fill="#fff" />
<rect x="80.42" y="362.16" width="2.80" height="3.80" fill="#fff" />
<rect x="80.42" y="374.26" width="2.80" height="3.80" fill="#fff" />
<rect x="85.13" y="362.16" width="2.80" height="3.80" fill="#fff" />
<rect x="85.13" y="374.26" width="2.80" height="3.80" fill="#fff" />
<rect x="89.84" y="362.16" width="2.80" height="3.80" fill="#fff" />
<rect x="89.84" y="374.26" width="2.80" height="3.80" fill="#fff" />
<rect x="94.55" y="362.16" width="2.80" height="3.80" fill="#fff" />
<rect x="94.55" y="374.26" width="2.80" height="3.80" fill="#fff" />
<rect x="99.26" y="362.16" width="2.80" height="3.80" fill="#fff" />
<rect x="99.26" y="374.26" width="2.80" height="3.80" fill="#fff" />
<rect x="103.97" y="362.16" width="2.80" height="3.80" fill="#fff" />
<rect x="103.97" y="374.26" width="2.80" height="3.80" fill="#fff" />
<rect x="108.68" y="362.16" width="2.80" height="3.80" fill="#fff" />
<rect x="108.68" y="374.26" width="2.80" height="3.80" fill="#fff" />
<rect x="113.39" y="362.16" width="2.80" height="3.80" fill="#fff" />
<rect x="113.39" y="374.26" width="2.80" height="3.80" fill="#fff" />
<rect x="118.10" y="362.16" width="2.80" height="3.80" fill="#fff" />
<rect x="118.10" y="374.26" width="2.80" height="3.80" fill="#fff" />
<rect x="122.81" y="362.16" width="2.80" height="3.80" fill="#fff" />
<rect x="122.81" y="374.26" width="2.80" height="3.80" fill="#fff" />
<rect x="127.52" y="362.16" width="2.80" height="3.80" fill="#fff" />
<rect x="127.52" y="374.26" width="2.80" height="3.80" fill="#fff" />
<rect x="132.23" y="362.16" width="2.80" height="3.80" fill="#fff" />
<rect x="132.23" y="374.26" width="2.80" height="3.80" fill="#fff" />
<rect x="74.00" y="368.26" width="25.00" height="3.80" fill="#fff" />
<rect x="104.00" y="368.26" width="27.00" height="3.80" fill="#fff" />
<rect x="135.00" y="368.26" width="1.90" height="3.80" fill="#fff" />
<rect x="142.90" y="360.16" width="67.90" height="19.50" fill="#000" />
<rect x="144.90" y="362.16" width="2.80" height="3.80" fill="#fff" />
<rect x="144.90" y="374.26" width="2.80" height="3.80" fill="#fff" />
<rect x="149.61" y="362.16" width="2.80" height="3.80" fill="#fff" />
<rect x="149.61" y="374.26" width="2.80" height="3.80" fill="#fff" />
<rect x="154.32" y="362.16" width="2.80" height="3.80" fill="#fff" />
<rect x="154.32" y="374.26" width="2.80" height="3.80" fill="#fff" />
<rect x="159.03" y="362.16" width="2.80" height="3.80" fill="#fff" />
<rect x="159.03" y="374.26" width="2.80" height="3.80" fill="#fff" />
<rect x="163.74" y="362.16" width="2.80" height="3.80" fill="#fff" />
<rect x="163.74" y="374.26" width="2.80" height="3.80" fill="#fff" />
<rect x="168.45" y="362.16" width="2.80" height="3.80" fill="#fff" />
<rect x="168.45" y="374.26" width="2.80" height="3.80" fill="#fff" />
<rect x="173.16" y="362.16" width="2.80" height="3.80" fill="#fff" />
<rect x="173.16" y="374.26" width="2.80" height="3.80" fill="#fff" />
<rect x="177.87" y="362.16" width="2.80" height="3.80" fill="#fff" />
<rect x="177.87" y="374.26" width="2.80" height="3.80" fill="#fff" />
<rect x="182.58" y="362.16" width="2.80" height="3.80" fill="#fff" />
<rect x="182.58" y="374.26" width="2.80" height="3.80" fill="#fff" />
<rect x="187.29" y="362.16" width="2.80" height="3.80" fill="#fff" />
<rect x="187.29" y="374.26" width="2.80" height="3.80" fill="#fff" />
<rect x="192.00" y="362.16" width="2.80" height="3.80" fill="#fff" />
<rect x="192.00" y="374.26" width="2.80" height="3.80" fill="#fff" />
<rect x="196.71" y="362.16" width="2.80" height="3.80" fill="#fff" />
<rect x="196.71" y="374.26" width="2.80" height="3.80" fill="#fff" />
<rect x="201.42" y="362.16" width="2.80" height="3.80" fill="#fff" />
<rect x="201.42" y="374.26" width="2.80" height="3.80" fill="#fff" />
<rect x="206.13" y="362.16" width="2.80" height="3.80" fill="#fff" />
<rect x="206.13" y="374.26" width="2.80" height="3.80" fill="#fff" />
<rect x="147.90" y="368.26" width="25.00" height="3.80" fill="#fff" />
<rect x="177.90" y="368.26" width="27.00" height="3.80" fill="#fff" />
<rect x="208.90" y="368.26" width="1.90" height="3.80" fill="#fff" />
<rect x="69.00" y="381.02" width="67.90" height="19.50" fill="#000" />
<rect x="71.00" y="383.02" width="2.80" height="3.80" fill="#fff" />
<rect x="71.00" y="395.12" width="2.80" height="3.80" fill="#fff" />
<rect x="75.71" y="383.02" width="2.80" height="3.80" fill="#fff" />
<rect x="75.71" y="395.12" width="2.80" height="3.80" fill="#fff" />
<rect x="80.42" y="383.02" width="2.80" height="3.80" fill="#fff" />
<rect x="80.42" y="395.12" width="2.80" height="3.80" fill="#fff" />
<rect x="85.13" y="383.02" width="2.80" height="3.80" fill="#fff" />
<rect x="85.13" y="395.12" width="2.80" height="3.80" fill="#fff" />
<rect x="89.84" y="383.02" width="2.80" height="3.80" fill="#fff" />
<rect x="89.84" y="395.12" width="2.80" height="3.80" fill="#fff" />
<rect x="94.55" y="383.02" width="2.80" height="3.80" fill="#fff" />
<rect x="94.55" y="395.12" width="2.80" height="3.80" fill="#fff" />
<rect x="99.26" y="383.02" width="2.80" height="3.80" fill="#fff" />
<rect x="99.26" y="395.12" width="2.80" height="3.80" fill="#fff" />
<rect x="103.97" y="383.02" width="2.80" height="3.80" fill="#fff" />
<rect x="103.97" y="395.12" width="2.80" height="3.80" fill="#fff" />
<rect x="108.68" y="383.02" width="2.80" height="3.80" fill="#fff" />
<rect x="108.68" y="395.12" width="2.80" height="3.80" fill="#fff" />
<rect x="113.39" y="383.02" width="2.80" height="3.80" fill="#fff" />
<rect x="113.39" y="395.12" width="2.80" height="3.80" fill="#fff" />
<rect x="118.10" y="383.02" width="2.80" height="3.80" fill="#fff" />
<rect x="118.10" y="395.12" width="2.80" height="3.80" fill="#fff" />
<rect x="122.81" y="383.02" width="2.80" height="3.80" fill="#fff" />
<rect x="122.81" y="395.12" width="2.80" height="3.80" fill="#fff" />
<rect x="127.52" y="383.02" width="2.80" height="3.80" fill="#fff" />
<rect x="127.52" y="395.12" width="2.80" height="3.80" fill="#fff" />
<rect x="132.23" y="383.02" width="2.80" height="3.80" fill="#fff" />
<rect x="132.23" y="395.12" width="2.80" height="3.80" fill="#fff" />
<rect x="74.00" y="389.12" width="25.00" height="3.80" fill="#fff" />
<rect x="104.00" y="389.12" width="27.00" height="3.80" fill="#fff" />
<rect x="135.00" y="389.12" width="1.90" height="3.80" fill="#fff" />
<rect x="142.90" y="381.02" width="67.90" height="19.50" fill="#000" />
<rect x="144.90" y="383.02" width="2.80" height="3.80" fill="#fff" />
<rect x="144.90" y="395.12" width="2.80" height="3.80" fill="#fff" />
<rect x="149.61" y="383.02" width="2.80" height="3.80" fill="#fff" />
<rect x="149.61" y="395.12" width="2.80" height="3.80" fill="#fff" />
<rect x="154.32" y="383.02" width="2.80" height="3.80" fill="#fff" />
<rect x="154.32" y="395.12" width="2.80" height="3.80" fill="#fff" />
<rect x="159.03" y="383.02" width="2.80" height="3.80" fill="#fff" />
<rect x="159.03" y="395.12" width="2.80" height="3.80" fill="#fff" />
<rect x="163.74" y="383.02" width="2.80" height="3.80" fill="#fff" />
<rect x="163.74" y="395.12" width="2.80" height="3.80" fill="#fff" />
<rect x="168.45" y="383.02" width="2.80" height="3.80" fill="#fff" />
<rect x="168.45" y="395.12" width="2.80" height="3.80" fill="#fff" />
<rect x="173.16" y="383.02" width="2.80" height="3.80" fill="#fff" />
<rect x="173.16" y="395.12" width="2.80" height="3.80" fill="#fff" />
<rect x="177.87" y="383.02" width="2.80" height="3.80" fill="#fff" />
<rect x="177.87" y="395.12" width="2.80" height="3.80" fill="#fff" />
<rect x="182.58" y="383.02" width="2.80" height="3.80" fill="#fff" />
<rect x="182.58" y="395.12" width="2.80" height="3.80" fill="#fff" />
<rect x="187.29" y="383.02" width="2.80" height="3.80" fill="#fff" />
<rect x="187.29" y="395.12" width="2.80" height="3.80" fill="#fff" />
<rect x="192.00" y="383.02" width="2.80" height="3.80" fill="#fff" />
<rect x="192.00" y="395.12" width="2.80" height="3.80" fill="#fff" />
<rect x="196.71" y="383.02" width="2.80" height="3.80" fill="#fff" />
<rect x="196.71" y="395.12" width="2.80" height="3.80" fill="#fff" />
<rect x="201.42" y="383.02" width="2.80" height="3.80" fill="#fff" />
<rect x="201.42" y="395.12" width="2.80" height="3.80" fill="#fff" />
<rect x="206.13" y="383.02" width="2.80" height="3.80" fill="#fff" />
<rect x="206.13" y="395.12" width="2.80" height="3.80" fill="#fff" />
<rect x="147.90" y="389.12" width="25.00" height="3.80" fill="#fff" />
<rect x="177.90" y="389.12" width="27.00" height="3.80" fill="#fff" />
<rect x="208.90" y="389.12" width="1.90" height="3.80" fill="#fff" />
<rect x="142.90" y="213.25" width="67.90" height="19.50" fill="#000" />
<rect x="144.90" y="215.25" width="2.80" height="3.80" fill="#fff" />
<rect x="144.90" y="227.35" width="2.80" height="3.80" fill="#fff" />
<rect x="149.61" y="215.25" width="2.80" height="3.80" fill="#fff" />
<rect x="149.61" y="227.35" width="2.80" height="3.80" fill="#fff" />
<rect x="154.32" y="215.25" width="2.80" height="3.80" fill="#fff" />
<rect x="154.32" y="227.35" width="2.80" height="3.80" fill="#fff" />
<rect x="159.03" y="215.25" width="2.80" height="3.80" fill="#fff" />
<rect x="159.03" y="227.35" width="2.80" height="3.80" fill="#fff" />
<rect x="163.74" y="215.25" width="2.80" height="3.80" fill="#fff" />
<rect x="163.74" y="227.35" width="2.80" height="3.80" fill="#fff" />
<rect x="168.45" y="215.25" width="2.80" height="3.80" fill="#fff" />
<rect x="168.45" y="227.35" width="2.80" height="3.80" fill="#fff" />
<rect x="173.16" y="215.25" width="2.80" height="3.80" fill="#fff" />
<rect x="173.16" y="227.35" width="2.80" height="3.80" fill="#fff" />
<rect x="177.87" y="215.25" width="2.80" height="3.80" fill="#fff" />
<rect x="177.87" y="227.35" width="2.80" height="3.80" fill="#fff" />
<rect x="182.58" y="215.25" width="2.80" height="3.80" fill="#fff" />
<rect x="182.58" y="227.35" width="2.80" height="3.80" fill="#fff" />
<rect x="187.29" y="215.25" width="2.80" height="3.80" fill="#fff" />
<rect x="187.29" y="227.35" width="2.80" height="3.80" fill="#fff" />
<rect x="192.00" y="215.25" width="2.80" height="3.80" fill="#fff" />
<rect x="192.00" y="227.35" width="2.80" height="3.80" fill="#fff" />
<rect x="196.71" y="215.25" width="2.80" height="3.80" fill="#fff" />
<rect x="196.71" y="227.35" width="2.80" height="3.80" fill="#fff" />
<rect x="201.42" y="215.25" width="2.80" height="3.80" fill="#fff" />
<rect x="201.42" y="227.35" width="2.80" height="3.80" fill="#fff" />
<rect x="206.13" y="215.25" width="2.80" height="3.80" fill="#fff" />
<rect x="206.13" y="227.35" width="2.80" height="3.80" fill="#fff" />
<rect x="147.90" y="221.35" width="25.00" height="3.80" fill="#fff" />
<rect x="177.90" y="221.35" width="27.00" height="3.80" fill="#fff" />
<rect x="208.90" y="221.35" width="1.90" height="3.80" fill="#fff" />
<rect x="136.90" y="310.00" width="6.00" height="15.40" fill="#000" />
<rect x="109.00" y="317.20" width="62.00" height="1.20" fill="#000" />
<rect x="120.00" y="310.00" width="39.70" height="15.40" fill="#000" />
<rect x="122.00" y="312.30" width="35.70" height="10.10" fill="#fff" />
<text transform="translate(139.90,321.30) scale(0.93,1)" font-size="10.5" text-anchor="middle" fill="#000" >CACHE</text>
<rect x="164.50" y="214.00" width="25.00" height="18.00" fill="#000" />
<rect x="166.00" y="217.00" width="22.00" height="10.30" fill="#fff" />
<text transform="translate(177.00,226.70) scale(0.93,1)" font-size="11" text-anchor="middle" fill="#000" >TAG</text>
<rect x="96.90" y="286.80" width="13.10" height="61.40" rx="4" ry="4" fill="#fff" stroke="#000" stroke-width="1.7" shape-rendering="geometricPrecision"/>
<text transform="translate(103.45,296.60) scale(0.93,1)" font-size="10.5" text-anchor="middle" fill="#000" >B</text>
<text transform="translate(103.45,308.70) scale(0.93,1)" font-size="10.5" text-anchor="middle" fill="#000" >A</text>
<text transform="translate(103.45,320.80) scale(0.93,1)" font-size="10.5" text-anchor="middle" fill="#000" >N</text>
<text transform="translate(103.45,332.90) scale(0.93,1)" font-size="10.5" text-anchor="middle" fill="#000" >K</text>
<text transform="translate(103.45,345.00) scale(0.93,1)" font-size="10.5" text-anchor="middle" fill="#000" >1</text>
<rect x="170.50" y="286.80" width="13.30" height="61.40" rx="4" ry="4" fill="#fff" stroke="#000" stroke-width="1.7" shape-rendering="geometricPrecision"/>
<text transform="translate(177.15,296.60) scale(0.93,1)" font-size="10.5" text-anchor="middle" fill="#000" >B</text>
<text transform="translate(177.15,308.70) scale(0.93,1)" font-size="10.5" text-anchor="middle" fill="#000" >A</text>
<text transform="translate(177.15,320.80) scale(0.93,1)" font-size="10.5" text-anchor="middle" fill="#000" >N</text>
<text transform="translate(177.15,332.90) scale(0.93,1)" font-size="10.5" text-anchor="middle" fill="#000" >K</text>
<text transform="translate(177.15,345.00) scale(0.93,1)" font-size="10.5" text-anchor="middle" fill="#000" >0</text>
<rect x="403.00" y="301.00" width="181.00" height="14.50" fill="#000" />
<rect x="404.20" y="302.00" width="178.80" height="12.40" fill="#fff" />
<rect x="403.00" y="304.00" width="6.20" height="1.00" fill="#000" />
<rect x="403.00" y="309.20" width="6.20" height="1.80" fill="#000" />
<rect x="409.00" y="301.00" width="1.20" height="14.50" fill="#000" />
<rect x="411.00" y="301.00" width="1.00" height="14.50" fill="#000" />
<rect x="413.00" y="303.00" width="8.00" height="7.00" fill="#000" />
<rect x="414.20" y="304.20" width="5.60" height="5.80" fill="#fff" />
<rect x="419.80" y="303.00" width="1.20" height="11.40" fill="#000" />
<rect x="413.00" y="309.00" width="5.20" height="5.40" fill="#000" />
<rect x="414.20" y="310.20" width="2.80" height="3.00" fill="#fff" />
<rect x="424.00" y="303.00" width="140.00" height="10.50" fill="#000" />
<rect x="426.00" y="304.00" width="4.00" height="5.00" fill="#fff" />
<rect x="431.00" y="304.00" width="3.00" height="5.00" fill="#fff" />
<rect x="432.00" y="310.40" width="1.00" height="3.10" fill="#fff" />
<rect x="435.00" y="304.00" width="3.00" height="5.00" fill="#fff" />
<rect x="436.00" y="310.40" width="1.00" height="3.10" fill="#fff" />
<rect x="440.00" y="304.00" width="4.00" height="5.00" fill="#fff" />
<rect x="445.00" y="304.00" width="3.00" height="5.00" fill="#fff" />
<rect x="446.00" y="310.40" width="1.00" height="3.10" fill="#fff" />
<rect x="449.00" y="304.00" width="3.00" height="5.00" fill="#fff" />
<rect x="454.00" y="304.00" width="4.00" height="5.00" fill="#fff" />
<rect x="455.00" y="310.40" width="1.00" height="3.10" fill="#fff" />
<rect x="459.00" y="304.00" width="3.00" height="5.00" fill="#fff" />
<rect x="460.00" y="310.40" width="1.00" height="3.10" fill="#fff" />
<rect x="463.00" y="304.00" width="3.00" height="5.00" fill="#fff" />
<rect x="468.00" y="304.00" width="4.00" height="5.00" fill="#fff" />
<rect x="469.00" y="310.40" width="1.00" height="3.10" fill="#fff" />
<rect x="473.00" y="304.00" width="3.00" height="5.00" fill="#fff" />
<rect x="477.00" y="304.00" width="3.00" height="5.00" fill="#fff" />
<rect x="478.00" y="310.40" width="1.00" height="3.10" fill="#fff" />
<rect x="482.00" y="304.00" width="4.00" height="5.00" fill="#fff" />
<rect x="483.00" y="310.40" width="1.00" height="3.10" fill="#fff" />
<rect x="487.00" y="304.00" width="3.00" height="5.00" fill="#fff" />
<rect x="491.00" y="304.00" width="3.00" height="5.00" fill="#fff" />
<rect x="492.00" y="310.40" width="1.00" height="3.10" fill="#fff" />
<rect x="496.00" y="304.00" width="4.00" height="5.00" fill="#fff" />
<rect x="501.00" y="304.00" width="3.00" height="5.00" fill="#fff" />
<rect x="502.00" y="310.40" width="1.00" height="3.10" fill="#fff" />
<rect x="505.00" y="304.00" width="3.00" height="5.00" fill="#fff" />
<rect x="506.00" y="310.40" width="1.00" height="3.10" fill="#fff" />
<rect x="510.00" y="304.00" width="4.00" height="5.00" fill="#fff" />
<rect x="515.00" y="304.00" width="3.00" height="5.00" fill="#fff" />
<rect x="516.00" y="310.40" width="1.00" height="3.10" fill="#fff" />
<rect x="519.00" y="304.00" width="3.00" height="5.00" fill="#fff" />
<rect x="524.00" y="304.00" width="4.00" height="5.00" fill="#fff" />
<rect x="525.00" y="310.40" width="1.00" height="3.10" fill="#fff" />
<rect x="529.00" y="304.00" width="3.00" height="5.00" fill="#fff" />
<rect x="530.00" y="310.40" width="1.00" height="3.10" fill="#fff" />
<rect x="533.00" y="304.00" width="3.00" height="5.00" fill="#fff" />
<rect x="538.00" y="304.00" width="4.00" height="5.00" fill="#fff" />
<rect x="539.00" y="310.40" width="1.00" height="3.10" fill="#fff" />
<rect x="543.00" y="304.00" width="3.00" height="5.00" fill="#fff" />
<rect x="547.00" y="304.00" width="3.00" height="5.00" fill="#fff" />
<rect x="548.00" y="310.40" width="1.00" height="3.10" fill="#fff" />
<rect x="552.00" y="304.00" width="4.00" height="5.00" fill="#fff" />
<rect x="553.00" y="310.40" width="1.00" height="3.10" fill="#fff" />
<rect x="557.00" y="304.00" width="3.00" height="5.00" fill="#fff" />
<rect x="567.00" y="303.00" width="8.20" height="7.00" fill="#000" />
<rect x="568.20" y="304.20" width="5.80" height="5.80" fill="#fff" />
<rect x="567.00" y="303.00" width="1.20" height="11.40" fill="#000" />
<rect x="570.00" y="309.00" width="5.20" height="5.40" fill="#000" />
<rect x="571.20" y="310.20" width="2.80" height="3.00" fill="#fff" />
<rect x="575.20" y="301.00" width="2.40" height="14.50" fill="#000" />
<rect x="577.60" y="304.00" width="6.40" height="1.00" fill="#000" />
<rect x="577.60" y="309.20" width="6.40" height="1.80" fill="#000" />
<rect x="403.00" y="317.00" width="181.00" height="14.50" fill="#000" />
<rect x="404.20" y="318.00" width="178.80" height="12.40" fill="#fff" />
<rect x="403.00" y="320.00" width="6.20" height="1.00" fill="#000" />
<rect x="403.00" y="325.20" width="6.20" height="1.80" fill="#000" />
<rect x="409.00" y="317.00" width="1.20" height="14.50" fill="#000" />
<rect x="411.00" y="317.00" width="1.00" height="14.50" fill="#000" />
<rect x="413.00" y="319.00" width="8.00" height="7.00" fill="#000" />
<rect x="414.20" y="320.20" width="5.60" height="5.80" fill="#fff" />
<rect x="419.80" y="319.00" width="1.20" height="11.40" fill="#000" />
<rect x="413.00" y="325.00" width="5.20" height="5.40" fill="#000" />
<rect x="414.20" y="326.20" width="2.80" height="3.00" fill="#fff" />
<rect x="424.00" y="319.00" width="140.00" height="10.50" fill="#000" />
<rect x="426.00" y="320.00" width="4.00" height="5.00" fill="#fff" />
<rect x="431.00" y="320.00" width="3.00" height="5.00" fill="#fff" />
<rect x="432.00" y="326.40" width="1.00" height="3.10" fill="#fff" />
<rect x="435.00" y="320.00" width="3.00" height="5.00" fill="#fff" />
<rect x="436.00" y="326.40" width="1.00" height="3.10" fill="#fff" />
<rect x="440.00" y="320.00" width="4.00" height="5.00" fill="#fff" />
<rect x="445.00" y="320.00" width="3.00" height="5.00" fill="#fff" />
<rect x="446.00" y="326.40" width="1.00" height="3.10" fill="#fff" />
<rect x="449.00" y="320.00" width="3.00" height="5.00" fill="#fff" />
<rect x="454.00" y="320.00" width="4.00" height="5.00" fill="#fff" />
<rect x="455.00" y="326.40" width="1.00" height="3.10" fill="#fff" />
<rect x="459.00" y="320.00" width="3.00" height="5.00" fill="#fff" />
<rect x="460.00" y="326.40" width="1.00" height="3.10" fill="#fff" />
<rect x="463.00" y="320.00" width="3.00" height="5.00" fill="#fff" />
<rect x="468.00" y="320.00" width="4.00" height="5.00" fill="#fff" />
<rect x="469.00" y="326.40" width="1.00" height="3.10" fill="#fff" />
<rect x="473.00" y="320.00" width="3.00" height="5.00" fill="#fff" />
<rect x="477.00" y="320.00" width="3.00" height="5.00" fill="#fff" />
<rect x="478.00" y="326.40" width="1.00" height="3.10" fill="#fff" />
<rect x="482.00" y="320.00" width="4.00" height="5.00" fill="#fff" />
<rect x="483.00" y="326.40" width="1.00" height="3.10" fill="#fff" />
<rect x="487.00" y="320.00" width="3.00" height="5.00" fill="#fff" />
<rect x="491.00" y="320.00" width="3.00" height="5.00" fill="#fff" />
<rect x="492.00" y="326.40" width="1.00" height="3.10" fill="#fff" />
<rect x="496.00" y="320.00" width="4.00" height="5.00" fill="#fff" />
<rect x="501.00" y="320.00" width="3.00" height="5.00" fill="#fff" />
<rect x="502.00" y="326.40" width="1.00" height="3.10" fill="#fff" />
<rect x="505.00" y="320.00" width="3.00" height="5.00" fill="#fff" />
<rect x="506.00" y="326.40" width="1.00" height="3.10" fill="#fff" />
<rect x="510.00" y="320.00" width="4.00" height="5.00" fill="#fff" />
<rect x="515.00" y="320.00" width="3.00" height="5.00" fill="#fff" />
<rect x="516.00" y="326.40" width="1.00" height="3.10" fill="#fff" />
<rect x="519.00" y="320.00" width="3.00" height="5.00" fill="#fff" />
<rect x="524.00" y="320.00" width="4.00" height="5.00" fill="#fff" />
<rect x="525.00" y="326.40" width="1.00" height="3.10" fill="#fff" />
<rect x="529.00" y="320.00" width="3.00" height="5.00" fill="#fff" />
<rect x="530.00" y="326.40" width="1.00" height="3.10" fill="#fff" />
<rect x="533.00" y="320.00" width="3.00" height="5.00" fill="#fff" />
<rect x="538.00" y="320.00" width="4.00" height="5.00" fill="#fff" />
<rect x="539.00" y="326.40" width="1.00" height="3.10" fill="#fff" />
<rect x="543.00" y="320.00" width="3.00" height="5.00" fill="#fff" />
<rect x="547.00" y="320.00" width="3.00" height="5.00" fill="#fff" />
<rect x="548.00" y="326.40" width="1.00" height="3.10" fill="#fff" />
<rect x="552.00" y="320.00" width="4.00" height="5.00" fill="#fff" />
<rect x="553.00" y="326.40" width="1.00" height="3.10" fill="#fff" />
<rect x="557.00" y="320.00" width="3.00" height="5.00" fill="#fff" />
<rect x="567.00" y="319.00" width="8.20" height="7.00" fill="#000" />
<rect x="568.20" y="320.20" width="5.80" height="5.80" fill="#fff" />
<rect x="567.00" y="319.00" width="1.20" height="11.40" fill="#000" />
<rect x="570.00" y="325.00" width="5.20" height="5.40" fill="#000" />
<rect x="571.20" y="326.20" width="2.80" height="3.00" fill="#fff" />
<rect x="575.20" y="317.00" width="2.40" height="14.50" fill="#000" />
<rect x="577.60" y="320.00" width="6.40" height="1.00" fill="#000" />
<rect x="577.60" y="325.20" width="6.40" height="1.80" fill="#000" />
<rect x="403.00" y="332.00" width="181.00" height="14.50" fill="#000" />
<rect x="404.20" y="333.00" width="178.80" height="12.40" fill="#fff" />
<rect x="403.00" y="335.00" width="6.20" height="1.00" fill="#000" />
<rect x="403.00" y="340.20" width="6.20" height="1.80" fill="#000" />
<rect x="409.00" y="332.00" width="1.20" height="14.50" fill="#000" />
<rect x="411.00" y="332.00" width="1.00" height="14.50" fill="#000" />
<rect x="413.00" y="334.00" width="8.00" height="7.00" fill="#000" />
<rect x="414.20" y="335.20" width="5.60" height="5.80" fill="#fff" />
<rect x="419.80" y="334.00" width="1.20" height="11.40" fill="#000" />
<rect x="413.00" y="340.00" width="5.20" height="5.40" fill="#000" />
<rect x="414.20" y="341.20" width="2.80" height="3.00" fill="#fff" />
<rect x="424.00" y="334.00" width="140.00" height="10.50" fill="#000" />
<rect x="426.00" y="335.00" width="4.00" height="5.00" fill="#fff" />
<rect x="431.00" y="335.00" width="3.00" height="5.00" fill="#fff" />
<rect x="432.00" y="341.40" width="1.00" height="3.10" fill="#fff" />
<rect x="435.00" y="335.00" width="3.00" height="5.00" fill="#fff" />
<rect x="436.00" y="341.40" width="1.00" height="3.10" fill="#fff" />
<rect x="440.00" y="335.00" width="4.00" height="5.00" fill="#fff" />
<rect x="445.00" y="335.00" width="3.00" height="5.00" fill="#fff" />
<rect x="446.00" y="341.40" width="1.00" height="3.10" fill="#fff" />
<rect x="449.00" y="335.00" width="3.00" height="5.00" fill="#fff" />
<rect x="454.00" y="335.00" width="4.00" height="5.00" fill="#fff" />
<rect x="455.00" y="341.40" width="1.00" height="3.10" fill="#fff" />
<rect x="459.00" y="335.00" width="3.00" height="5.00" fill="#fff" />
<rect x="460.00" y="341.40" width="1.00" height="3.10" fill="#fff" />
<rect x="463.00" y="335.00" width="3.00" height="5.00" fill="#fff" />
<rect x="468.00" y="335.00" width="4.00" height="5.00" fill="#fff" />
<rect x="469.00" y="341.40" width="1.00" height="3.10" fill="#fff" />
<rect x="473.00" y="335.00" width="3.00" height="5.00" fill="#fff" />
<rect x="477.00" y="335.00" width="3.00" height="5.00" fill="#fff" />
<rect x="478.00" y="341.40" width="1.00" height="3.10" fill="#fff" />
<rect x="482.00" y="335.00" width="4.00" height="5.00" fill="#fff" />
<rect x="483.00" y="341.40" width="1.00" height="3.10" fill="#fff" />
<rect x="487.00" y="335.00" width="3.00" height="5.00" fill="#fff" />
<rect x="491.00" y="335.00" width="3.00" height="5.00" fill="#fff" />
<rect x="492.00" y="341.40" width="1.00" height="3.10" fill="#fff" />
<rect x="496.00" y="335.00" width="4.00" height="5.00" fill="#fff" />
<rect x="501.00" y="335.00" width="3.00" height="5.00" fill="#fff" />
<rect x="502.00" y="341.40" width="1.00" height="3.10" fill="#fff" />
<rect x="505.00" y="335.00" width="3.00" height="5.00" fill="#fff" />
<rect x="506.00" y="341.40" width="1.00" height="3.10" fill="#fff" />
<rect x="510.00" y="335.00" width="4.00" height="5.00" fill="#fff" />
<rect x="515.00" y="335.00" width="3.00" height="5.00" fill="#fff" />
<rect x="516.00" y="341.40" width="1.00" height="3.10" fill="#fff" />
<rect x="519.00" y="335.00" width="3.00" height="5.00" fill="#fff" />
<rect x="524.00" y="335.00" width="4.00" height="5.00" fill="#fff" />
<rect x="525.00" y="341.40" width="1.00" height="3.10" fill="#fff" />
<rect x="529.00" y="335.00" width="3.00" height="5.00" fill="#fff" />
<rect x="530.00" y="341.40" width="1.00" height="3.10" fill="#fff" />
<rect x="533.00" y="335.00" width="3.00" height="5.00" fill="#fff" />
<rect x="538.00" y="335.00" width="4.00" height="5.00" fill="#fff" />
<rect x="539.00" y="341.40" width="1.00" height="3.10" fill="#fff" />
<rect x="543.00" y="335.00" width="3.00" height="5.00" fill="#fff" />
<rect x="547.00" y="335.00" width="3.00" height="5.00" fill="#fff" />
<rect x="548.00" y="341.40" width="1.00" height="3.10" fill="#fff" />
<rect x="552.00" y="335.00" width="4.00" height="5.00" fill="#fff" />
<rect x="553.00" y="341.40" width="1.00" height="3.10" fill="#fff" />
<rect x="557.00" y="335.00" width="3.00" height="5.00" fill="#fff" />
<rect x="567.00" y="334.00" width="8.20" height="7.00" fill="#000" />
<rect x="568.20" y="335.20" width="5.80" height="5.80" fill="#fff" />
<rect x="567.00" y="334.00" width="1.20" height="11.40" fill="#000" />
<rect x="570.00" y="340.00" width="5.20" height="5.40" fill="#000" />
<rect x="571.20" y="341.20" width="2.80" height="3.00" fill="#fff" />
<rect x="575.20" y="332.00" width="2.40" height="14.50" fill="#000" />
<rect x="577.60" y="335.00" width="6.40" height="1.00" fill="#000" />
<rect x="577.60" y="340.20" width="6.40" height="1.80" fill="#000" />
<rect x="403.00" y="348.00" width="181.00" height="14.50" fill="#000" />
<rect x="404.20" y="349.00" width="178.80" height="12.40" fill="#fff" />
<rect x="403.00" y="351.00" width="6.20" height="1.00" fill="#000" />
<rect x="403.00" y="356.20" width="6.20" height="1.80" fill="#000" />
<rect x="409.00" y="348.00" width="1.20" height="14.50" fill="#000" />
<rect x="411.00" y="348.00" width="1.00" height="14.50" fill="#000" />
<rect x="413.00" y="350.00" width="8.00" height="7.00" fill="#000" />
<rect x="414.20" y="351.20" width="5.60" height="5.80" fill="#fff" />
<rect x="419.80" y="350.00" width="1.20" height="11.40" fill="#000" />
<rect x="413.00" y="356.00" width="5.20" height="5.40" fill="#000" />
<rect x="414.20" y="357.20" width="2.80" height="3.00" fill="#fff" />
<rect x="424.00" y="350.00" width="140.00" height="10.50" fill="#000" />
<rect x="426.00" y="351.00" width="4.00" height="5.00" fill="#fff" />
<rect x="431.00" y="351.00" width="3.00" height="5.00" fill="#fff" />
<rect x="432.00" y="357.40" width="1.00" height="3.10" fill="#fff" />
<rect x="435.00" y="351.00" width="3.00" height="5.00" fill="#fff" />
<rect x="436.00" y="357.40" width="1.00" height="3.10" fill="#fff" />
<rect x="440.00" y="351.00" width="4.00" height="5.00" fill="#fff" />
<rect x="445.00" y="351.00" width="3.00" height="5.00" fill="#fff" />
<rect x="446.00" y="357.40" width="1.00" height="3.10" fill="#fff" />
<rect x="449.00" y="351.00" width="3.00" height="5.00" fill="#fff" />
<rect x="454.00" y="351.00" width="4.00" height="5.00" fill="#fff" />
<rect x="455.00" y="357.40" width="1.00" height="3.10" fill="#fff" />
<rect x="459.00" y="351.00" width="3.00" height="5.00" fill="#fff" />
<rect x="460.00" y="357.40" width="1.00" height="3.10" fill="#fff" />
<rect x="463.00" y="351.00" width="3.00" height="5.00" fill="#fff" />
<rect x="468.00" y="351.00" width="4.00" height="5.00" fill="#fff" />
<rect x="469.00" y="357.40" width="1.00" height="3.10" fill="#fff" />
<rect x="473.00" y="351.00" width="3.00" height="5.00" fill="#fff" />
<rect x="477.00" y="351.00" width="3.00" height="5.00" fill="#fff" />
<rect x="478.00" y="357.40" width="1.00" height="3.10" fill="#fff" />
<rect x="482.00" y="351.00" width="4.00" height="5.00" fill="#fff" />
<rect x="483.00" y="357.40" width="1.00" height="3.10" fill="#fff" />
<rect x="487.00" y="351.00" width="3.00" height="5.00" fill="#fff" />
<rect x="491.00" y="351.00" width="3.00" height="5.00" fill="#fff" />
<rect x="492.00" y="357.40" width="1.00" height="3.10" fill="#fff" />
<rect x="496.00" y="351.00" width="4.00" height="5.00" fill="#fff" />
<rect x="501.00" y="351.00" width="3.00" height="5.00" fill="#fff" />
<rect x="502.00" y="357.40" width="1.00" height="3.10" fill="#fff" />
<rect x="505.00" y="351.00" width="3.00" height="5.00" fill="#fff" />
<rect x="506.00" y="357.40" width="1.00" height="3.10" fill="#fff" />
<rect x="510.00" y="351.00" width="4.00" height="5.00" fill="#fff" />
<rect x="515.00" y="351.00" width="3.00" height="5.00" fill="#fff" />
<rect x="516.00" y="357.40" width="1.00" height="3.10" fill="#fff" />
<rect x="519.00" y="351.00" width="3.00" height="5.00" fill="#fff" />
<rect x="524.00" y="351.00" width="4.00" height="5.00" fill="#fff" />
<rect x="525.00" y="357.40" width="1.00" height="3.10" fill="#fff" />
<rect x="529.00" y="351.00" width="3.00" height="5.00" fill="#fff" />
<rect x="530.00" y="357.40" width="1.00" height="3.10" fill="#fff" />
<rect x="533.00" y="351.00" width="3.00" height="5.00" fill="#fff" />
<rect x="538.00" y="351.00" width="4.00" height="5.00" fill="#fff" />
<rect x="539.00" y="357.40" width="1.00" height="3.10" fill="#fff" />
<rect x="543.00" y="351.00" width="3.00" height="5.00" fill="#fff" />
<rect x="547.00" y="351.00" width="3.00" height="5.00" fill="#fff" />
<rect x="548.00" y="357.40" width="1.00" height="3.10" fill="#fff" />
<rect x="552.00" y="351.00" width="4.00" height="5.00" fill="#fff" />
<rect x="553.00" y="357.40" width="1.00" height="3.10" fill="#fff" />
<rect x="557.00" y="351.00" width="3.00" height="5.00" fill="#fff" />
<rect x="567.00" y="350.00" width="8.20" height="7.00" fill="#000" />
<rect x="568.20" y="351.20" width="5.80" height="5.80" fill="#fff" />
<rect x="567.00" y="350.00" width="1.20" height="11.40" fill="#000" />
<rect x="570.00" y="356.00" width="5.20" height="5.40" fill="#000" />
<rect x="571.20" y="357.20" width="2.80" height="3.00" fill="#fff" />
<rect x="575.20" y="348.00" width="2.40" height="14.50" fill="#000" />
<rect x="577.60" y="351.00" width="6.40" height="1.00" fill="#000" />
<rect x="577.60" y="356.20" width="6.40" height="1.80" fill="#000" />
<rect x="471.80" y="326.20" width="44.50" height="10.90" rx="3" ry="3" fill="#fff" stroke="#000" stroke-width="1.4" shape-rendering="geometricPrecision"/>
<text transform="translate(493.40,335.40) scale(1,1)" font-size="11" text-anchor="middle" fill="#000" >BANK 0</text>
<rect x="362.20" y="364.80" width="221.50" height="11.60" fill="#000" />
<rect x="363.20" y="365.80" width="4.40" height="2.60" fill="#fff" />
<rect x="363.20" y="369.30" width="4.40" height="2.60" fill="#fff" />
<rect x="363.20" y="372.80" width="4.40" height="2.60" fill="#fff" />
<rect x="372.00" y="366.80" width="8.70" height="2.00" fill="#fff" />
<rect x="378.70" y="368.80" width="2.00" height="5.00" fill="#fff" />
<rect x="372.00" y="370.40" width="4.40" height="4.00" fill="#fff" />
<rect x="373.60" y="371.80" width="2.80" height="2.60" fill="#000" />
<rect x="372.00" y="373.00" width="2.80" height="1.40" fill="#fff" />
<rect x="382.00" y="367.50" width="1.00" height="2.80" fill="#fff" />
<rect x="384.00" y="366.80" width="1.00" height="3.50" fill="#fff" />
<rect x="386.00" y="367.50" width="1.00" height="2.80" fill="#fff" />
<rect x="388.00" y="366.80" width="1.00" height="3.50" fill="#fff" />
<rect x="398.00" y="367.50" width="1.00" height="2.80" fill="#fff" />
<rect x="400.00" y="366.80" width="1.00" height="3.50" fill="#fff" />
<rect x="402.00" y="367.50" width="1.00" height="2.80" fill="#fff" />
<rect x="404.00" y="366.80" width="1.00" height="3.50" fill="#fff" />
<rect x="406.00" y="367.50" width="1.00" height="2.80" fill="#fff" />
<rect x="415.00" y="367.50" width="1.00" height="2.80" fill="#fff" />
<rect x="417.00" y="366.80" width="1.00" height="3.50" fill="#fff" />
<rect x="419.00" y="367.50" width="1.00" height="2.80" fill="#fff" />
<rect x="421.00" y="366.80" width="1.00" height="3.50" fill="#fff" />
<rect x="428.00" y="367.50" width="1.00" height="2.80" fill="#fff" />
<rect x="430.00" y="366.80" width="1.00" height="3.50" fill="#fff" />
<rect x="432.00" y="367.50" width="1.00" height="2.80" fill="#fff" />
<rect x="434.00" y="366.80" width="1.00" height="3.50" fill="#fff" />
<rect x="436.00" y="367.50" width="1.00" height="2.80" fill="#fff" />
<rect x="438.00" y="366.80" width="1.00" height="3.50" fill="#fff" />
<rect x="443.00" y="367.50" width="1.00" height="2.80" fill="#fff" />
<rect x="445.00" y="366.80" width="1.00" height="3.50" fill="#fff" />
<rect x="447.00" y="367.50" width="1.00" height="2.80" fill="#fff" />
<rect x="498.00" y="367.50" width="1.00" height="2.80" fill="#fff" />
<rect x="500.00" y="366.80" width="1.00" height="3.50" fill="#fff" />
<rect x="502.00" y="367.50" width="1.00" height="2.80" fill="#fff" />
<rect x="504.00" y="366.80" width="1.00" height="3.50" fill="#fff" />
<rect x="513.00" y="367.50" width="1.00" height="2.80" fill="#fff" />
<rect x="515.00" y="366.80" width="1.00" height="3.50" fill="#fff" />
<rect x="517.00" y="367.50" width="1.00" height="2.80" fill="#fff" />
<rect x="526.00" y="367.50" width="1.00" height="2.80" fill="#fff" />
<rect x="528.00" y="366.80" width="1.00" height="3.50" fill="#fff" />
<rect x="530.00" y="367.50" width="1.00" height="2.80" fill="#fff" />
<rect x="532.00" y="366.80" width="1.00" height="3.50" fill="#fff" />
<rect x="534.00" y="367.50" width="1.00" height="2.80" fill="#fff" />
<rect x="536.00" y="366.80" width="1.00" height="3.50" fill="#fff" />
<rect x="539.00" y="367.50" width="1.00" height="2.80" fill="#fff" />
<rect x="541.00" y="366.80" width="1.00" height="3.50" fill="#fff" />
<rect x="543.00" y="367.50" width="1.00" height="2.80" fill="#fff" />
<rect x="545.00" y="366.80" width="1.00" height="3.50" fill="#fff" />
<rect x="547.00" y="367.50" width="1.00" height="2.80" fill="#fff" />
<rect x="549.00" y="366.80" width="1.00" height="3.50" fill="#fff" />
<rect x="556.00" y="367.50" width="1.00" height="2.80" fill="#fff" />
<rect x="558.00" y="366.80" width="1.00" height="3.50" fill="#fff" />
<rect x="560.00" y="367.50" width="1.00" height="2.80" fill="#fff" />
<rect x="562.00" y="366.80" width="1.00" height="3.50" fill="#fff" />
<rect x="381.00" y="374.80" width="184.00" height="0.80" fill="#fff" />
<rect x="565.00" y="366.80" width="10.80" height="8.00" fill="#fff" />
<rect x="567.00" y="368.40" width="6.60" height="4.80" fill="#000" />
<rect x="568.40" y="369.80" width="5.20" height="3.40" fill="#fff" />
<rect x="571.60" y="373.20" width="2.00" height="1.60" fill="#000" />
<rect x="578.40" y="365.80" width="4.30" height="2.60" fill="#fff" />
<rect x="578.40" y="369.30" width="4.30" height="2.60" fill="#fff" />
<rect x="578.40" y="372.80" width="4.30" height="2.60" fill="#fff" />
<rect x="362.20" y="378.00" width="221.50" height="11.60" fill="#000" />
<rect x="363.20" y="379.00" width="4.40" height="2.60" fill="#fff" />
<rect x="363.20" y="382.50" width="4.40" height="2.60" fill="#fff" />
<rect x="363.20" y="386.00" width="4.40" height="2.60" fill="#fff" />
<rect x="372.00" y="380.00" width="8.70" height="2.00" fill="#fff" />
<rect x="378.70" y="382.00" width="2.00" height="5.00" fill="#fff" />
<rect x="372.00" y="383.60" width="4.40" height="4.00" fill="#fff" />
<rect x="373.60" y="385.00" width="2.80" height="2.60" fill="#000" />
<rect x="372.00" y="386.20" width="2.80" height="1.40" fill="#fff" />
<rect x="382.00" y="380.70" width="1.00" height="2.80" fill="#fff" />
<rect x="384.00" y="380.70" width="1.00" height="2.80" fill="#fff" />
<rect x="386.00" y="380.70" width="1.00" height="2.80" fill="#fff" />
<rect x="388.00" y="380.70" width="1.00" height="2.80" fill="#fff" />
<rect x="398.00" y="380.70" width="1.00" height="2.80" fill="#fff" />
<rect x="400.00" y="380.70" width="1.00" height="2.80" fill="#fff" />
<rect x="402.00" y="380.70" width="1.00" height="2.80" fill="#fff" />
<rect x="404.00" y="380.70" width="1.00" height="2.80" fill="#fff" />
<rect x="406.00" y="380.70" width="1.00" height="2.80" fill="#fff" />
<rect x="415.00" y="380.70" width="1.00" height="2.80" fill="#fff" />
<rect x="417.00" y="380.70" width="1.00" height="2.80" fill="#fff" />
<rect x="419.00" y="380.70" width="1.00" height="2.80" fill="#fff" />
<rect x="421.00" y="380.70" width="1.00" height="2.80" fill="#fff" />
<rect x="428.00" y="380.70" width="1.00" height="2.80" fill="#fff" />
<rect x="430.00" y="380.70" width="1.00" height="2.80" fill="#fff" />
<rect x="432.00" y="380.70" width="1.00" height="2.80" fill="#fff" />
<rect x="434.00" y="380.70" width="1.00" height="2.80" fill="#fff" />
<rect x="436.00" y="380.70" width="1.00" height="2.80" fill="#fff" />
<rect x="438.00" y="380.70" width="1.00" height="2.80" fill="#fff" />
<rect x="443.00" y="380.70" width="1.00" height="2.80" fill="#fff" />
<rect x="445.00" y="380.70" width="1.00" height="2.80" fill="#fff" />
<rect x="447.00" y="380.70" width="1.00" height="2.80" fill="#fff" />
<rect x="498.00" y="380.70" width="1.00" height="2.80" fill="#fff" />
<rect x="500.00" y="380.70" width="1.00" height="2.80" fill="#fff" />
<rect x="502.00" y="380.70" width="1.00" height="2.80" fill="#fff" />
<rect x="504.00" y="380.70" width="1.00" height="2.80" fill="#fff" />
<rect x="513.00" y="380.70" width="1.00" height="2.80" fill="#fff" />
<rect x="515.00" y="380.70" width="1.00" height="2.80" fill="#fff" />
<rect x="517.00" y="380.70" width="1.00" height="2.80" fill="#fff" />
<rect x="526.00" y="380.70" width="1.00" height="2.80" fill="#fff" />
<rect x="528.00" y="380.70" width="1.00" height="2.80" fill="#fff" />
<rect x="530.00" y="380.70" width="1.00" height="2.80" fill="#fff" />
<rect x="532.00" y="380.70" width="1.00" height="2.80" fill="#fff" />
<rect x="534.00" y="380.70" width="1.00" height="2.80" fill="#fff" />
<rect x="536.00" y="380.70" width="1.00" height="2.80" fill="#fff" />
<rect x="539.00" y="380.70" width="1.00" height="2.80" fill="#fff" />
<rect x="541.00" y="380.70" width="1.00" height="2.80" fill="#fff" />
<rect x="543.00" y="380.70" width="1.00" height="2.80" fill="#fff" />
<rect x="545.00" y="380.70" width="1.00" height="2.80" fill="#fff" />
<rect x="547.00" y="380.70" width="1.00" height="2.80" fill="#fff" />
<rect x="549.00" y="380.70" width="1.00" height="2.80" fill="#fff" />
<rect x="556.00" y="380.70" width="1.00" height="2.80" fill="#fff" />
<rect x="558.00" y="380.70" width="1.00" height="2.80" fill="#fff" />
<rect x="560.00" y="380.70" width="1.00" height="2.80" fill="#fff" />
<rect x="562.00" y="380.70" width="1.00" height="2.80" fill="#fff" />
<rect x="381.00" y="388.00" width="184.00" height="0.80" fill="#fff" />
<rect x="565.00" y="380.00" width="10.80" height="8.00" fill="#fff" />
<rect x="567.00" y="381.60" width="6.60" height="4.80" fill="#000" />
<rect x="568.40" y="383.00" width="5.20" height="3.40" fill="#fff" />
<rect x="571.60" y="386.40" width="2.00" height="1.60" fill="#000" />
<rect x="578.40" y="379.00" width="4.30" height="2.60" fill="#fff" />
<rect x="578.40" y="382.50" width="4.30" height="2.60" fill="#fff" />
<rect x="578.40" y="386.00" width="4.30" height="2.60" fill="#fff" />
<rect x="362.20" y="391.80" width="221.50" height="11.60" fill="#000" />
<rect x="363.20" y="392.80" width="4.40" height="2.60" fill="#fff" />
<rect x="363.20" y="396.30" width="4.40" height="2.60" fill="#fff" />
<rect x="363.20" y="399.80" width="4.40" height="2.60" fill="#fff" />
<rect x="372.00" y="393.80" width="8.70" height="2.00" fill="#fff" />
<rect x="378.70" y="395.80" width="2.00" height="5.00" fill="#fff" />
<rect x="372.00" y="397.40" width="4.40" height="4.00" fill="#fff" />
<rect x="373.60" y="398.80" width="2.80" height="2.60" fill="#000" />
<rect x="372.00" y="400.00" width="2.80" height="1.40" fill="#fff" />
<rect x="382.00" y="394.50" width="1.00" height="2.80" fill="#fff" />
<rect x="384.00" y="393.80" width="1.00" height="3.50" fill="#fff" />
<rect x="386.00" y="394.50" width="1.00" height="2.80" fill="#fff" />
<rect x="388.00" y="393.80" width="1.00" height="3.50" fill="#fff" />
<rect x="398.00" y="394.50" width="1.00" height="2.80" fill="#fff" />
<rect x="400.00" y="393.80" width="1.00" height="3.50" fill="#fff" />
<rect x="402.00" y="394.50" width="1.00" height="2.80" fill="#fff" />
<rect x="404.00" y="393.80" width="1.00" height="3.50" fill="#fff" />
<rect x="406.00" y="394.50" width="1.00" height="2.80" fill="#fff" />
<rect x="415.00" y="394.50" width="1.00" height="2.80" fill="#fff" />
<rect x="417.00" y="393.80" width="1.00" height="3.50" fill="#fff" />
<rect x="419.00" y="394.50" width="1.00" height="2.80" fill="#fff" />
<rect x="421.00" y="393.80" width="1.00" height="3.50" fill="#fff" />
<rect x="428.00" y="394.50" width="1.00" height="2.80" fill="#fff" />
<rect x="430.00" y="393.80" width="1.00" height="3.50" fill="#fff" />
<rect x="432.00" y="394.50" width="1.00" height="2.80" fill="#fff" />
<rect x="434.00" y="393.80" width="1.00" height="3.50" fill="#fff" />
<rect x="436.00" y="394.50" width="1.00" height="2.80" fill="#fff" />
<rect x="438.00" y="393.80" width="1.00" height="3.50" fill="#fff" />
<rect x="443.00" y="394.50" width="1.00" height="2.80" fill="#fff" />
<rect x="445.00" y="393.80" width="1.00" height="3.50" fill="#fff" />
<rect x="447.00" y="394.50" width="1.00" height="2.80" fill="#fff" />
<rect x="498.00" y="394.50" width="1.00" height="2.80" fill="#fff" />
<rect x="500.00" y="393.80" width="1.00" height="3.50" fill="#fff" />
<rect x="502.00" y="394.50" width="1.00" height="2.80" fill="#fff" />
<rect x="504.00" y="393.80" width="1.00" height="3.50" fill="#fff" />
<rect x="513.00" y="394.50" width="1.00" height="2.80" fill="#fff" />
<rect x="515.00" y="393.80" width="1.00" height="3.50" fill="#fff" />
<rect x="517.00" y="394.50" width="1.00" height="2.80" fill="#fff" />
<rect x="526.00" y="394.50" width="1.00" height="2.80" fill="#fff" />
<rect x="528.00" y="393.80" width="1.00" height="3.50" fill="#fff" />
<rect x="530.00" y="394.50" width="1.00" height="2.80" fill="#fff" />
<rect x="532.00" y="393.80" width="1.00" height="3.50" fill="#fff" />
<rect x="534.00" y="394.50" width="1.00" height="2.80" fill="#fff" />
<rect x="536.00" y="393.80" width="1.00" height="3.50" fill="#fff" />
<rect x="539.00" y="394.50" width="1.00" height="2.80" fill="#fff" />
<rect x="541.00" y="393.80" width="1.00" height="3.50" fill="#fff" />
<rect x="543.00" y="394.50" width="1.00" height="2.80" fill="#fff" />
<rect x="545.00" y="393.80" width="1.00" height="3.50" fill="#fff" />
<rect x="547.00" y="394.50" width="1.00" height="2.80" fill="#fff" />
<rect x="549.00" y="393.80" width="1.00" height="3.50" fill="#fff" />
<rect x="556.00" y="394.50" width="1.00" height="2.80" fill="#fff" />
<rect x="558.00" y="393.80" width="1.00" height="3.50" fill="#fff" />
<rect x="560.00" y="394.50" width="1.00" height="2.80" fill="#fff" />
<rect x="562.00" y="393.80" width="1.00" height="3.50" fill="#fff" />
<rect x="381.00" y="401.80" width="184.00" height="0.80" fill="#fff" />
<rect x="565.00" y="393.80" width="10.80" height="8.00" fill="#fff" />
<rect x="567.00" y="395.40" width="6.60" height="4.80" fill="#000" />
<rect x="568.40" y="396.80" width="5.20" height="3.40" fill="#fff" />
<rect x="571.60" y="400.20" width="2.00" height="1.60" fill="#000" />
<rect x="578.40" y="392.80" width="4.30" height="2.60" fill="#fff" />
<rect x="578.40" y="396.30" width="4.30" height="2.60" fill="#fff" />
<rect x="578.40" y="399.80" width="4.30" height="2.60" fill="#fff" />
<rect x="449.60" y="363.45" width="46.80" height="13.65" fill="#000" />
<rect x="450.85" y="364.85" width="44.25" height="10.75" fill="#fff" />
<text transform="translate(472.20,373.90) scale(1,1)" font-size="10.5" text-anchor="middle" fill="#000" >BANK 1</text>
<rect x="449.60" y="377.60" width="46.80" height="13.30" fill="#000" />
<rect x="450.85" y="379.00" width="44.25" height="10.40" fill="#fff" />
<text transform="translate(472.20,388.90) scale(1,1)" font-size="10.5" text-anchor="middle" fill="#000" >BANK 2</text>
<rect x="449.60" y="391.85" width="46.80" height="12.95" fill="#000" />
<rect x="450.85" y="393.25" width="44.25" height="10.05" fill="#fff" />
<text transform="translate(472.20,401.80) scale(1,1)" font-size="10.5" text-anchor="middle" fill="#000" >BANK 3</text>
<rect x="594.00" y="315.80" width="20.00" height="89.80" fill="#000" />
<rect x="595.00" y="316.80" width="17.20" height="87.80" fill="#fff" />
<rect x="604.00" y="316.00" width="3.00" height="89.60" fill="#000" />
<rect x="596.00" y="318.00" width="8.00" height="6.00" fill="#000" />
<rect x="597.00" y="319.00" width="6.00" height="4.00" fill="#fff" />
<rect x="607.00" y="319.00" width="4.00" height="5.00" fill="#000" />
<rect x="608.00" y="320.00" width="2.00" height="3.00" fill="#fff" />
<rect x="596.00" y="325.00" width="8.00" height="6.00" fill="#000" />
<rect x="597.00" y="326.00" width="6.00" height="4.00" fill="#fff" />
<rect x="607.00" y="326.00" width="4.00" height="5.00" fill="#000" />
<rect x="608.00" y="327.00" width="2.00" height="3.00" fill="#fff" />
<rect x="596.00" y="332.00" width="8.00" height="6.00" fill="#000" />
<rect x="597.00" y="333.00" width="6.00" height="4.00" fill="#fff" />
<rect x="607.00" y="333.00" width="4.00" height="5.00" fill="#000" />
<rect x="608.00" y="334.00" width="2.00" height="3.00" fill="#fff" />
<rect x="596.00" y="340.00" width="8.00" height="6.00" fill="#000" />
<rect x="597.00" y="341.00" width="6.00" height="4.00" fill="#fff" />
<rect x="607.00" y="341.00" width="4.00" height="5.00" fill="#000" />
<rect x="608.00" y="342.00" width="2.00" height="3.00" fill="#fff" />
<rect x="596.00" y="347.00" width="8.00" height="6.00" fill="#000" />
<rect x="597.00" y="348.00" width="6.00" height="4.00" fill="#fff" />
<rect x="607.00" y="348.00" width="4.00" height="5.00" fill="#000" />
<rect x="608.00" y="349.00" width="2.00" height="3.00" fill="#fff" />
<rect x="596.00" y="354.00" width="8.00" height="6.00" fill="#000" />
<rect x="597.00" y="355.00" width="6.00" height="4.00" fill="#fff" />
<rect x="607.00" y="355.00" width="4.00" height="5.00" fill="#000" />
<rect x="608.00" y="356.00" width="2.00" height="3.00" fill="#fff" />
<rect x="596.00" y="362.00" width="8.00" height="6.00" fill="#000" />
<rect x="597.00" y="363.00" width="6.00" height="4.00" fill="#fff" />
<rect x="607.00" y="363.00" width="4.00" height="5.00" fill="#000" />
<rect x="608.00" y="364.00" width="2.00" height="3.00" fill="#fff" />
<rect x="596.00" y="369.00" width="8.00" height="6.00" fill="#000" />
<rect x="597.00" y="370.00" width="6.00" height="4.00" fill="#fff" />
<rect x="607.00" y="370.00" width="4.00" height="5.00" fill="#000" />
<rect x="608.00" y="371.00" width="2.00" height="3.00" fill="#fff" />
<rect x="596.00" y="376.00" width="8.00" height="6.00" fill="#000" />
<rect x="597.00" y="377.00" width="6.00" height="4.00" fill="#fff" />
<rect x="607.00" y="377.00" width="4.00" height="5.00" fill="#000" />
<rect x="608.00" y="378.00" width="2.00" height="3.00" fill="#fff" />
<rect x="596.00" y="384.00" width="8.00" height="6.00" fill="#000" />
<rect x="597.00" y="385.00" width="6.00" height="4.00" fill="#fff" />
<rect x="607.00" y="385.00" width="4.00" height="5.00" fill="#000" />
<rect x="608.00" y="386.00" width="2.00" height="3.00" fill="#fff" />
<rect x="596.00" y="391.00" width="8.00" height="6.00" fill="#000" />
<rect x="597.00" y="392.00" width="6.00" height="4.00" fill="#fff" />
<rect x="607.00" y="392.00" width="4.00" height="5.00" fill="#000" />
<rect x="608.00" y="393.00" width="2.00" height="3.00" fill="#fff" />
<rect x="596.00" y="398.00" width="8.00" height="6.00" fill="#000" />
<rect x="597.00" y="399.00" width="6.00" height="4.00" fill="#fff" />
<rect x="607.00" y="399.00" width="4.00" height="5.00" fill="#000" />
<rect x="608.00" y="400.00" width="2.00" height="3.00" fill="#fff" />
<path d="M625.6,304.6 L644.2,304.6 L645.6,308.6 L644.5,311.7 L643.8,315.4 L645.7,320.2 L643.8,325.5 L644.5,329.7 L645.7,332.9 L644.3,336.2 L626.2,336.2 L624.7,334 L624.3,329.7 L625.5,324.4 L624.3,320.2 L625.5,312.8 L624.3,308.6 Z" fill="none" stroke="#000" stroke-width="1.15" stroke-linejoin="round" shape-rendering="geometricPrecision"/>
<rect x="627.00" y="354.40" width="19.00" height="30.30" fill="#000" />
<rect x="624.10" y="360.00" width="2.90" height="19.70" fill="#000" />
<rect x="645.80" y="351.80" width="2.20" height="37.20" fill="#000" />
<rect x="647.80" y="349.80" width="2.20" height="40.70" fill="#000" />
<rect x="621.20" y="361.60" width="3.10" height="6.60" fill="#000" />
<rect x="622.20" y="362.60" width="2.10" height="4.60" fill="#fff" />
<rect x="621.20" y="371.60" width="3.10" height="6.30" fill="#000" />
<rect x="622.20" y="372.60" width="2.10" height="4.30" fill="#fff" />
<rect x="626.20" y="368.20" width="1.00" height="3.40" fill="#fff" />
</g>
</svg>
</body></html>
